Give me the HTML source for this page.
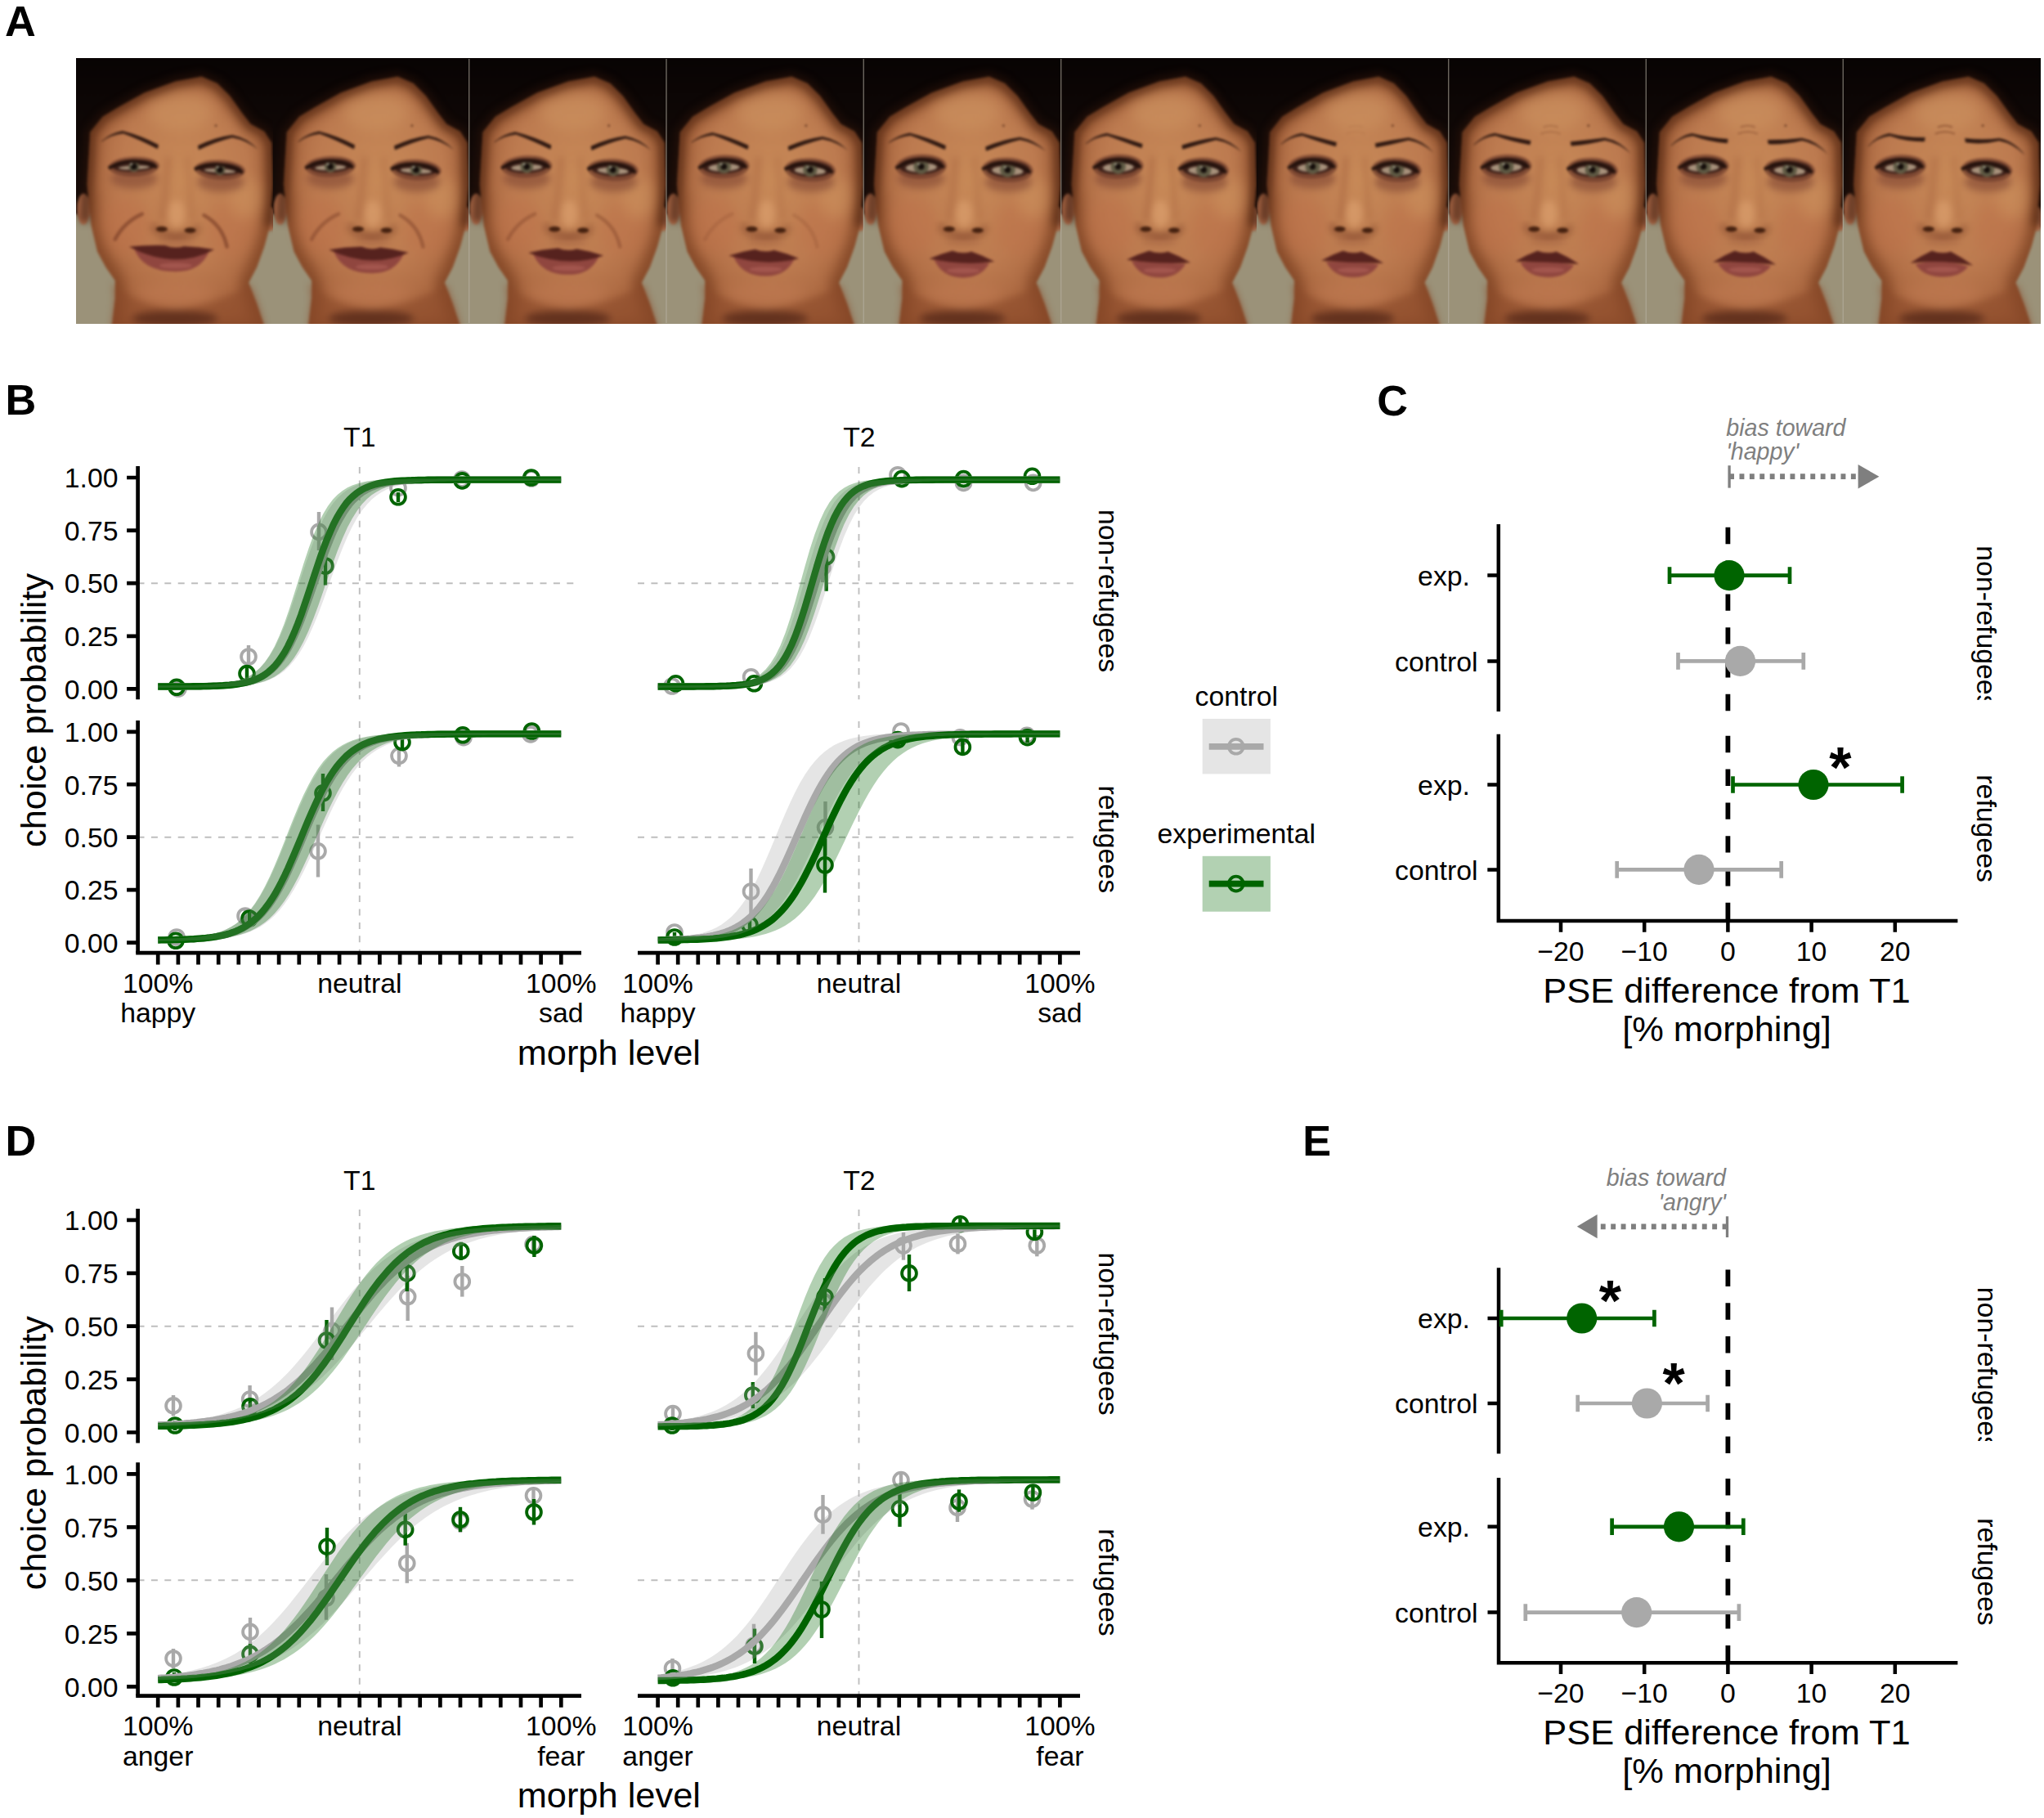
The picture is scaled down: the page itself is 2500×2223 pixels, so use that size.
<!DOCTYPE html>
<html lang="en"><head><meta charset="utf-8"><title>Figure</title>
<style>
html,body{margin:0;padding:0;background:#fff}
svg{display:block}
text{font-family:"Liberation Sans", Arial, Helvetica, sans-serif;fill:#000}
.t{font-size:33.8px}.tt{font-size:43.4px}.pl{font-size:52.3px;font-weight:bold}
.am{text-anchor:middle}.ae{text-anchor:end}
.star{font-size:70px;font-weight:bold}
.it{font-size:28.6px;font-style:italic;fill:#7f7f7f}
.ref{stroke:#bebebe;stroke-width:1.9;stroke-dasharray:8 8.4;fill:none}
.ax{stroke:#000;stroke-width:4.7;fill:none}
.ax2{stroke:#000;stroke-width:4.5;fill:none}
.zero{stroke:#000;stroke-width:5.8;stroke-dasharray:20.4 20.4;fill:none}
.pg{stroke:#006400;stroke-width:3.8;fill:none}.pk{stroke:#a9a9a9;stroke-width:3.8;fill:none}
.pg[d],.pk[d]{stroke-width:4.4}
.rg{fill:#006400;fill-opacity:.3}.rk{fill:#a9a9a9;fill-opacity:.3}
.lg{stroke:#006400;stroke-width:8.4;fill:none}.lk{stroke:#a9a9a9;stroke-width:8.4;fill:none}
</style></head><body>
<svg width="2500" height="2223" viewBox="0 0 2500 2223">
<rect width="2500" height="2223" fill="#fff"/>
<text x="6" y="44" class="pl">A</text>
<defs>
<filter id="fb" x="-5%" y="-5%" width="110%" height="110%" color-interpolation-filters="sRGB"><feGaussianBlur stdDeviation="1.4"/></filter>
<filter id="fb3" x="-30%" y="-30%" width="160%" height="160%" color-interpolation-filters="sRGB"><feGaussianBlur stdDeviation="4"/></filter>
<filter id="fb6" x="-40%" y="-40%" width="180%" height="180%" color-interpolation-filters="sRGB"><feGaussianBlur stdDeviation="8"/></filter>
<clipPath id="fsk"><path d="M12.7,153.7L17.8,204L25.4,236L35.6,255L47,271.6L47,293L42,336H232L220,300L210,274L220,255L229,230L235,208L239.5,154L238,103L229,89L212.4,80L202.3,67L187,45.5L171.7,30.3L152.6,22L120.8,27.7L82.7,41.7L50.9,59.5L31.8,71L16.5,90Z"/></clipPath>
<clipPath id="fc"><rect x="0" y="0" width="240" height="324"/></clipPath>
<radialGradient id="skin" cx="0.52" cy="0.40" r="0.62"><stop offset="0" stop-color="#c88a58"/><stop offset="0.55" stop-color="#bd7b50"/><stop offset="1" stop-color="#a35f3a"/></radialGradient>
<linearGradient id="hairg" x1="0" y1="0" x2="0" y2="1"><stop offset="0" stop-color="#070303"/><stop offset="1" stop-color="#1a0e0a"/></linearGradient>
<g id="fbase">
<rect x="-12" y="-12" width="264" height="348" fill="#9b9279"/>
<path d="M-12,-12H252V206H240Q237,216 232,204L224,110H18L13,192Q6,206 0,190H-12Z" fill="url(#hairg)"/>
<ellipse cx="8.5" cy="184" rx="8" ry="19" fill="#b16c49"/>
<ellipse cx="236.5" cy="196" rx="6" ry="15" fill="#b16c49"/>
<path d="M12.7,153.7L17.8,204L25.4,236L35.6,255L47,271.6L47,293L42,336H232L220,300L210,274L220,255L229,230L235,208L239.5,154L238,103L229,89L212.4,80L202.3,67L187,45.5L171.7,30.3L152.6,22L120.8,27.7L82.7,41.7L50.9,59.5L31.8,71L16.5,90Z" fill="url(#skin)"/>
<g filter="url(#fb3)"><path d="M10,200L12.7,153.7L16.5,90L31.8,71L50.9,59.5L82.7,41.7L120.8,27.7L152.6,22L171.7,30.3L187,45.5L202.3,67L212.4,80L229,89L238,103L239.5,154L236,205" stroke="#2a120a" stroke-width="13" fill="none" opacity=".55" stroke-linejoin="round"/></g>
<g clip-path="url(#fsk)"><g filter="url(#fb6)"><path d="M12.7,153.7L17.8,204L25.4,236L35.6,255L47,271.6L47,293L42,336H232L220,300L210,274L220,255L229,230L235,208L239.5,154L238,103L229,89L212.4,80L202.3,67L187,45.5L171.7,30.3L152.6,22L120.8,27.7L82.7,41.7L50.9,59.5L31.8,71L16.5,90Z" stroke="#6a3418" stroke-width="22" fill="none" opacity=".6" stroke-linejoin="round"/></g></g>
<g filter="url(#fb6)">
<ellipse cx="126" cy="66" rx="40" ry="22" fill="#d39a66" opacity=".4"/>
<ellipse cx="60" cy="205" rx="30" ry="34" fill="#bd7149" opacity=".5"/>
<ellipse cx="188" cy="207" rx="30" ry="34" fill="#bd7149" opacity=".45"/>
<ellipse cx="205" cy="170" rx="20" ry="26" fill="#cf9560" opacity=".5"/>
<ellipse cx="121" cy="288" rx="48" ry="14" fill="#c07a52" opacity=".6"/>
</g>
<g filter="url(#fb3)">
<path d="M44,274Q70,300 121,308Q172,300 212,276L222,302L232,336H42L47,293Z" fill="#8a4a2a" opacity=".62"/>
<ellipse cx="120" cy="318" rx="52" ry="10" fill="#582a1a" opacity=".8"/>
<ellipse cx="70" cy="147" rx="29" ry="12" fill="#864c35" opacity=".65"/>
<ellipse cx="176" cy="151" rx="29" ry="12" fill="#864c35" opacity=".65"/>
<path d="M112,120Q108,170 104,198" stroke="#a7643f" stroke-width="7" fill="none" opacity=".55"/>
<path d="M135,120Q139,170 141,198" stroke="#a7643f" stroke-width="6" fill="none" opacity=".4"/>
<ellipse cx="122" cy="190" rx="10" ry="17" fill="#dba06e" opacity=".7"/>
<ellipse cx="121" cy="222" rx="22" ry="6" fill="#9a5a3c" opacity=".5"/>
</g>
<g filter="url(#fb3)"><path d="M94,203Q96,214 108,213Q121,221 134,214Q146,215 148,205" stroke="#7d4329" stroke-width="6" fill="none" opacity=".75"/></g>
<ellipse cx="104" cy="208.5" rx="7" ry="3.3" fill="#44200f"/>
<ellipse cx="138.6" cy="210" rx="7" ry="3.3" fill="#44200f"/>
<circle cx="170" cy="82" r="1.3" fill="#5a2f1c"/>
</g>
</defs>
<g transform="translate(93.6,71.6) scale(1.0025,1)" clip-path="url(#fc)"><g filter="url(#fb)"><use href="#fbase"/><g transform="rotate(-2 70 131)"><ellipse cx="70" cy="132" rx="31" ry="12" fill="#6d3c2b" opacity=".7"/><ellipse cx="70" cy="131" rx="27" ry="7.5" fill="#3b1f18"/><ellipse cx="70" cy="133.2" rx="19" ry="2.5" fill="#a8927c"/><circle cx="70" cy="132" r="6.4" fill="#5f5a44"/><circle cx="70" cy="132" r="3.8" fill="#120b08"/><path d="M39,133Q68,117.5 98,134" stroke="#23110c" stroke-width="4" fill="none"/><circle cx="67" cy="129" r="1.2" fill="#d8d2c4"/></g><g transform="rotate(3 175 135)"><ellipse cx="175" cy="136" rx="31" ry="12" fill="#6d3c2b" opacity=".7"/><ellipse cx="175" cy="135" rx="27" ry="7.5" fill="#3b1f18"/><ellipse cx="175" cy="137.2" rx="19" ry="2.5" fill="#a8927c"/><circle cx="175" cy="136" r="6.4" fill="#5f5a44"/><circle cx="175" cy="136" r="3.8" fill="#120b08"/><path d="M144,137Q173,121.5 203,138" stroke="#23110c" stroke-width="4" fill="none"/><circle cx="172" cy="133" r="1.2" fill="#d8d2c4"/></g><path d="M30.5,101Q42,91 56,88.5Q78,94 100,105.5L99,110.5Q76,98.5 57,91.5Q42,93 30.5,101.8Z" fill="#2b1610"/><path d="M148,106.5Q170,96 190,93.5Q208,97 221.3,111Q207,99.5 190,96.5Q170,101.5 149,111.5Z" fill="#2b1610"/><path d="M80,190Q58,200 47,221M155.5,191.6Q178,204 183.5,230" stroke="#7e4229" stroke-width="4.5" fill="none" opacity="0.7" stroke-linecap="round"/><path d="M70,231.5Q120,256.2 162,235Q152,260.5 121,260.5Q80,260.5 70,231.5Z" fill="#90463f"/><ellipse cx="121" cy="253.2" rx="20" ry="3.5" fill="#b0635a" opacity=".55"/><path d="M64,230Q86,227.8 108,228.5Q120,233 131,229.5Q149.5,230 168,233.5Q120,259.2 64,230Z" fill="#56221e"/></g></g>
<g transform="translate(334.2,71.6) scale(0.9983,1)" clip-path="url(#fc)"><g filter="url(#fb)"><use href="#fbase"/><g transform="rotate(-2 70 131)"><ellipse cx="70" cy="132" rx="31" ry="12.7" fill="#6d3c2b" opacity=".7"/><ellipse cx="70" cy="131" rx="27" ry="8.2" fill="#3b1f18"/><ellipse cx="70" cy="133.2" rx="19" ry="3.2" fill="#a8927c"/><circle cx="70" cy="132" r="7.1" fill="#5f5a44"/><circle cx="70" cy="132" r="3.8" fill="#120b08"/><path d="M39,133Q68,116.8 98,134" stroke="#23110c" stroke-width="4" fill="none"/><circle cx="67" cy="129" r="1.2" fill="#d8d2c4"/></g><g transform="rotate(3 175 135)"><ellipse cx="175" cy="136" rx="31" ry="12.7" fill="#6d3c2b" opacity=".7"/><ellipse cx="175" cy="135" rx="27" ry="8.2" fill="#3b1f18"/><ellipse cx="175" cy="137.2" rx="19" ry="3.2" fill="#a8927c"/><circle cx="175" cy="136" r="7.1" fill="#5f5a44"/><circle cx="175" cy="136" r="3.8" fill="#120b08"/><path d="M144,137Q173,120.8 203,138" stroke="#23110c" stroke-width="4" fill="none"/><circle cx="172" cy="133" r="1.2" fill="#d8d2c4"/></g><path d="M30.5,101.4Q42,91.6 56,89.1Q78,94.6 100,105.7L99,110.7Q76,99.1 57,92.1Q42,93.6 30.5,102.2Z" fill="#2b1610"/><path d="M148,106.8Q170,96.7 190,94.2Q208,97.7 221.3,111.5Q207,100.2 190,97.2Q170,102.2 149,111.8Z" fill="#2b1610"/><path d="M80,190Q58,200 47,221M155.5,191.6Q178,204 183.5,230" stroke="#7e4229" stroke-width="4.5" fill="none" opacity="0.5" stroke-linecap="round"/><path d="M74,235.2Q120,254.8 159.8,238.7Q149.8,262.4 121,262.4Q84,262.4 74,235.2Z" fill="#90463f"/><ellipse cx="121" cy="254.7" rx="20" ry="3.5" fill="#b0635a" opacity=".55"/><path d="M68,233.7Q88,230.4 108,230.1Q120,234.6 131,231.1Q148.4,232.7 165.8,237.2Q120,257.8 68,233.7Z" fill="#56221e"/></g></g>
<g transform="translate(573.8,71.6) scale(1.0050,1)" clip-path="url(#fc)"><g filter="url(#fb)"><use href="#fbase"/><g transform="rotate(-2 70 131)"><ellipse cx="70" cy="132" rx="31" ry="13.5" fill="#6d3c2b" opacity=".7"/><ellipse cx="70" cy="131" rx="27" ry="9" fill="#3b1f18"/><ellipse cx="70" cy="133.2" rx="19" ry="4" fill="#a8927c"/><circle cx="70" cy="132" r="7.9" fill="#5f5a44"/><circle cx="70" cy="132" r="3.8" fill="#120b08"/><path d="M39,133Q68,116 98,134" stroke="#23110c" stroke-width="4" fill="none"/><circle cx="67" cy="129" r="1.2" fill="#d8d2c4"/></g><g transform="rotate(3 175 135)"><ellipse cx="175" cy="136" rx="31" ry="13.5" fill="#6d3c2b" opacity=".7"/><ellipse cx="175" cy="135" rx="27" ry="9" fill="#3b1f18"/><ellipse cx="175" cy="137.2" rx="19" ry="4" fill="#a8927c"/><circle cx="175" cy="136" r="7.9" fill="#5f5a44"/><circle cx="175" cy="136" r="3.8" fill="#120b08"/><path d="M144,137Q173,120 203,138" stroke="#23110c" stroke-width="4" fill="none"/><circle cx="172" cy="133" r="1.2" fill="#d8d2c4"/></g><path d="M30.5,101.9Q42,92.3 56,89.8Q78,95.3 100,106L99,111Q76,99.8 57,92.8Q42,94.3 30.5,102.7Z" fill="#2b1610"/><path d="M148,107.2Q170,97.3 190,94.8Q208,98.3 221.3,112Q207,100.8 190,97.8Q170,102.8 149,112.2Z" fill="#2b1610"/><path d="M80,190Q58,200 47,221M155.5,191.6Q178,204 183.5,230" stroke="#7e4229" stroke-width="4.5" fill="none" opacity="0.4" stroke-linecap="round"/><path d="M77.9,238.9Q120,253.3 157.6,242.4Q147.6,264.2 121,264.2Q87.9,264.2 77.9,238.9Z" fill="#90463f"/><ellipse cx="121" cy="256.2" rx="20" ry="3.5" fill="#b0635a" opacity=".55"/><path d="M71.9,237.4Q90,233.1 108,231.7Q120,236.2 131,232.7Q147.3,235.3 163.6,240.9Q120,256.3 71.9,237.4Z" fill="#56221e"/></g></g>
<g transform="translate(815,71.6) scale(1.0050,1)" clip-path="url(#fc)"><g filter="url(#fb)"><use href="#fbase"/><g transform="rotate(-2 70 131)"><ellipse cx="70" cy="132" rx="31" ry="14.2" fill="#6d3c2b" opacity=".7"/><ellipse cx="70" cy="131" rx="27" ry="9.7" fill="#3b1f18"/><ellipse cx="70" cy="133.2" rx="19" ry="4.7" fill="#a8927c"/><circle cx="70" cy="132" r="8.6" fill="#5f5a44"/><circle cx="70" cy="132" r="3.8" fill="#120b08"/><path d="M39,133Q68,115.3 98,134" stroke="#23110c" stroke-width="4" fill="none"/><circle cx="67" cy="129" r="1.2" fill="#d8d2c4"/></g><g transform="rotate(3 175 135)"><ellipse cx="175" cy="136" rx="31" ry="14.2" fill="#6d3c2b" opacity=".7"/><ellipse cx="175" cy="135" rx="27" ry="9.7" fill="#3b1f18"/><ellipse cx="175" cy="137.2" rx="19" ry="4.7" fill="#a8927c"/><circle cx="175" cy="136" r="8.6" fill="#5f5a44"/><circle cx="175" cy="136" r="3.8" fill="#120b08"/><path d="M144,137Q173,119.3 203,138" stroke="#23110c" stroke-width="4" fill="none"/><circle cx="172" cy="133" r="1.2" fill="#d8d2c4"/></g><path d="M30.5,102.3Q42,92.9 56,90.4Q78,95.9 100,106.2L99,111.2Q76,100.4 57,93.4Q42,94.9 30.5,103.1Z" fill="#2b1610"/><path d="M148,107.5Q170,98 190,95.5Q208,99 221.3,112.5Q207,101.5 190,98.5Q170,103.5 149,112.5Z" fill="#2b1610"/><path d="M80,190Q58,200 47,221M155.5,191.6Q178,204 183.5,230" stroke="#7e4229" stroke-width="4.5" fill="none" opacity="0.2" stroke-linecap="round"/><path d="M81.9,242.6Q120,251.8 155.3,246.1Q145.3,266.1 121,266.1Q91.9,266.1 81.9,242.6Z" fill="#90463f"/><ellipse cx="121" cy="257.7" rx="20" ry="3.5" fill="#b0635a" opacity=".55"/><path d="M75.9,241.1Q91.9,235.7 108,233.3Q120,237.8 131,234.3Q146.2,238 161.3,244.6Q120,254.8 75.9,241.1Z" fill="#56221e"/></g></g>
<g transform="translate(1056.2,71.6) scale(1.0067,1)" clip-path="url(#fc)"><g filter="url(#fb)"><use href="#fbase"/><g transform="rotate(-2 70 131)"><ellipse cx="70" cy="132" rx="31" ry="15" fill="#6d3c2b" opacity=".7"/><ellipse cx="70" cy="131" rx="27" ry="10.5" fill="#3b1f18"/><ellipse cx="70" cy="133.2" rx="19" ry="5.5" fill="#a8927c"/><circle cx="70" cy="132" r="9.2" fill="#5f5a44"/><circle cx="70" cy="132" r="3.8" fill="#120b08"/><path d="M39,133Q68,114.5 98,134" stroke="#23110c" stroke-width="4" fill="none"/><circle cx="67" cy="129" r="1.2" fill="#d8d2c4"/></g><g transform="rotate(3 175 135)"><ellipse cx="175" cy="136" rx="31" ry="15" fill="#6d3c2b" opacity=".7"/><ellipse cx="175" cy="135" rx="27" ry="10.5" fill="#3b1f18"/><ellipse cx="175" cy="137.2" rx="19" ry="5.5" fill="#a8927c"/><circle cx="175" cy="136" r="9.2" fill="#5f5a44"/><circle cx="175" cy="136" r="3.8" fill="#120b08"/><path d="M144,137Q173,118.5 203,138" stroke="#23110c" stroke-width="4" fill="none"/><circle cx="172" cy="133" r="1.2" fill="#d8d2c4"/></g><path d="M30.5,102.8Q42,93.6 56,91.1Q78,96.6 100,106.5L99,111.5Q76,101.1 57,94.1Q42,95.6 30.5,103.6Z" fill="#2b1610"/><path d="M148,107.9Q170,98.7 190,96.2Q208,99.7 221.3,113Q207,102.2 190,99.2Q170,104.2 149,112.9Z" fill="#2b1610"/><path d="M80,190Q58,200 47,221M155.5,191.6Q178,204 183.5,230" stroke="#7e4229" stroke-width="4.5" fill="none" opacity="0" stroke-linecap="round"/><path d="M85.8,246.3Q120,250.3 153.1,249.8Q143.1,267.9 121,267.9Q95.8,267.9 85.8,246.3Z" fill="#90463f"/><ellipse cx="121" cy="259.2" rx="20" ry="3.5" fill="#b0635a" opacity=".55"/><path d="M79.8,244.8Q93.9,238.4 108,234.9Q120,239.4 131,235.9Q145.1,240.6 159.1,248.3Q120,253.3 79.8,244.8Z" fill="#56221e"/></g></g>
<g transform="translate(1297.8,71.6) scale(0.9967,1)" clip-path="url(#fc)"><g filter="url(#fb)"><use href="#fbase"/><g transform="rotate(-2 70 131)"><ellipse cx="70" cy="132" rx="31" ry="14.9" fill="#6d3c2b" opacity=".7"/><ellipse cx="70" cy="131" rx="27" ry="10.4" fill="#3b1f18"/><ellipse cx="70" cy="133.2" rx="19" ry="5.4" fill="#a8927c"/><circle cx="70" cy="132" r="9.2" fill="#5f5a44"/><circle cx="70" cy="132" r="3.8" fill="#120b08"/><path d="M39,133Q68,114.6 98,134" stroke="#23110c" stroke-width="4" fill="none"/><circle cx="67" cy="129" r="1.2" fill="#d8d2c4"/></g><g transform="rotate(3 175 135)"><ellipse cx="175" cy="136" rx="31" ry="14.9" fill="#6d3c2b" opacity=".7"/><ellipse cx="175" cy="135" rx="27" ry="10.4" fill="#3b1f18"/><ellipse cx="175" cy="137.2" rx="19" ry="5.4" fill="#a8927c"/><circle cx="175" cy="136" r="9.2" fill="#5f5a44"/><circle cx="175" cy="136" r="3.8" fill="#120b08"/><path d="M144,137Q173,118.6 203,138" stroke="#23110c" stroke-width="4" fill="none"/><circle cx="172" cy="133" r="1.2" fill="#d8d2c4"/></g><path d="M30.5,103.6Q42,93.7 56,91.2Q78,96.7 100,104.6L99,109.6Q76,101.2 57,94.2Q42,95.7 30.5,104.4Z" fill="#2b1610"/><path d="M148,105.9Q170,98.9 190,96.4Q208,99.9 221.3,114Q207,102.4 190,99.4Q170,104.4 149,110.9Z" fill="#2b1610"/><path d="M86.4,247.5Q120,248.8 152.8,250.9Q142.8,267.8 121,267.8Q96.4,267.8 86.4,247.5Z" fill="#90463f"/><ellipse cx="121" cy="259" rx="20" ry="3.5" fill="#b0635a" opacity=".55"/><path d="M80.4,246Q94.2,239 108,235Q120,239.5 131,236Q144.9,241.2 158.8,249.4Q120,251.8 80.4,246Z" fill="#56221e"/></g></g>
<g transform="translate(1537,71.6) scale(0.9783,1)" clip-path="url(#fc)"><g filter="url(#fb)"><use href="#fbase"/><g transform="rotate(-2 70 131)"><ellipse cx="70" cy="132" rx="31" ry="14.8" fill="#6d3c2b" opacity=".7"/><ellipse cx="70" cy="131" rx="27" ry="10.3" fill="#3b1f18"/><ellipse cx="70" cy="133.2" rx="19" ry="5.3" fill="#a8927c"/><circle cx="70" cy="132" r="9.2" fill="#5f5a44"/><circle cx="70" cy="132" r="3.8" fill="#120b08"/><path d="M39,133Q68,114.7 98,134" stroke="#23110c" stroke-width="4" fill="none"/><circle cx="67" cy="129" r="1.2" fill="#d8d2c4"/></g><g transform="rotate(3 175 135)"><ellipse cx="175" cy="136" rx="31" ry="14.8" fill="#6d3c2b" opacity=".7"/><ellipse cx="175" cy="135" rx="27" ry="10.3" fill="#3b1f18"/><ellipse cx="175" cy="137.2" rx="19" ry="5.3" fill="#a8927c"/><circle cx="175" cy="136" r="9.2" fill="#5f5a44"/><circle cx="175" cy="136" r="3.8" fill="#120b08"/><path d="M144,137Q173,118.7 203,138" stroke="#23110c" stroke-width="4" fill="none"/><circle cx="172" cy="133" r="1.2" fill="#d8d2c4"/></g><path d="M30.5,104.5Q42,93.8 56,91.3Q78,96.8 100,102.6L99,107.6Q76,101.3 57,94.3Q42,95.8 30.5,105.3Z" fill="#2b1610"/><path d="M148,103.8Q170,99.2 190,96.7Q208,100.2 221.3,115Q207,102.7 190,99.7Q170,104.7 149,108.8Z" fill="#2b1610"/><path d="M112,92q12,-5 24,0M115,84q9,-4 18,0" stroke="#8c5233" stroke-width="2.2" fill="none" opacity="0.1"/><path d="M86.8,248.5Q120,247.2 152.6,251.8Q142.6,267.6 121,267.6Q96.8,267.6 86.8,248.5Z" fill="#90463f"/><ellipse cx="121" cy="258.8" rx="20" ry="3.5" fill="#b0635a" opacity=".55"/><path d="M80.8,247Q94.4,239.5 108,235Q120,239.5 131,236Q144.8,241.6 158.6,250.3Q120,250.2 80.8,247Z" fill="#56221e"/></g></g>
<g transform="translate(1771.8,71.6) scale(1.0058,1)" clip-path="url(#fc)"><g filter="url(#fb)"><use href="#fbase"/><g transform="rotate(-2 70 131)"><ellipse cx="70" cy="132" rx="31" ry="14.7" fill="#6d3c2b" opacity=".7"/><ellipse cx="70" cy="131" rx="27" ry="10.2" fill="#3b1f18"/><ellipse cx="70" cy="133.2" rx="19" ry="5.2" fill="#a8927c"/><circle cx="70" cy="132" r="9.1" fill="#5f5a44"/><circle cx="70" cy="132" r="3.8" fill="#120b08"/><path d="M39,133Q68,114.8 98,134" stroke="#23110c" stroke-width="4" fill="none"/><circle cx="67" cy="129" r="1.2" fill="#d8d2c4"/></g><g transform="rotate(3 175 135)"><ellipse cx="175" cy="136" rx="31" ry="14.7" fill="#6d3c2b" opacity=".7"/><ellipse cx="175" cy="135" rx="27" ry="10.2" fill="#3b1f18"/><ellipse cx="175" cy="137.2" rx="19" ry="5.2" fill="#a8927c"/><circle cx="175" cy="136" r="9.1" fill="#5f5a44"/><circle cx="175" cy="136" r="3.8" fill="#120b08"/><path d="M144,137Q173,118.8 203,138" stroke="#23110c" stroke-width="4" fill="none"/><circle cx="172" cy="133" r="1.2" fill="#d8d2c4"/></g><path d="M30.5,105.3Q42,93.8 56,91.3Q78,96.8 100,100.5L99,105.5Q76,101.3 57,94.3Q42,95.8 30.5,106.1Z" fill="#2b1610"/><path d="M148,101.7Q170,99.5 190,97Q208,100.5 221.3,116Q207,103 190,100Q170,105 149,106.7Z" fill="#2b1610"/><path d="M112,92q12,-5 24,0M115,84q9,-4 18,0" stroke="#8c5233" stroke-width="2.2" fill="none" opacity="0.4"/><path d="M87.2,249.5Q120,245.6 152.4,252.7Q142.4,267.4 121,267.4Q97.2,267.4 87.2,249.5Z" fill="#90463f"/><ellipse cx="121" cy="258.5" rx="20" ry="3.5" fill="#b0635a" opacity=".55"/><path d="M81.2,248Q94.6,240 108,235Q120,239.5 131,236Q144.7,242.1 158.4,251.2Q120,248.6 81.2,248Z" fill="#56221e"/></g></g>
<g transform="translate(2013.2,71.6) scale(1.0042,1)" clip-path="url(#fc)"><g filter="url(#fb)"><use href="#fbase"/><g transform="rotate(-2 70 131)"><ellipse cx="70" cy="132" rx="31" ry="14.6" fill="#6d3c2b" opacity=".7"/><ellipse cx="70" cy="131" rx="27" ry="10.1" fill="#3b1f18"/><ellipse cx="70" cy="133.2" rx="19" ry="5.1" fill="#a8927c"/><circle cx="70" cy="132" r="9" fill="#5f5a44"/><circle cx="70" cy="132" r="3.8" fill="#120b08"/><path d="M39,133Q68,114.9 98,134" stroke="#23110c" stroke-width="4" fill="none"/><circle cx="67" cy="129" r="1.2" fill="#d8d2c4"/></g><g transform="rotate(3 175 135)"><ellipse cx="175" cy="136" rx="31" ry="14.6" fill="#6d3c2b" opacity=".7"/><ellipse cx="175" cy="135" rx="27" ry="10.1" fill="#3b1f18"/><ellipse cx="175" cy="137.2" rx="19" ry="5.1" fill="#a8927c"/><circle cx="175" cy="136" r="9" fill="#5f5a44"/><circle cx="175" cy="136" r="3.8" fill="#120b08"/><path d="M144,137Q173,118.9 203,138" stroke="#23110c" stroke-width="4" fill="none"/><circle cx="172" cy="133" r="1.2" fill="#d8d2c4"/></g><path d="M30.5,106.2Q42,93.9 56,91.4Q78,96.9 100,98.5L99,103.5Q76,101.4 57,94.4Q42,95.9 30.5,107Z" fill="#2b1610"/><path d="M148,99.6Q170,99.7 190,97.2Q208,100.7 221.3,117Q207,103.2 190,100.2Q170,105.2 149,104.6Z" fill="#2b1610"/><path d="M112,92q12,-5 24,0M115,84q9,-4 18,0" stroke="#8c5233" stroke-width="2.2" fill="none" opacity="0.6"/><path d="M87.6,250.5Q120,244.1 152.2,253.6Q142.2,267.2 121,267.2Q97.6,267.2 87.6,250.5Z" fill="#90463f"/><ellipse cx="121" cy="258.3" rx="20" ry="3.5" fill="#b0635a" opacity=".55"/><path d="M81.6,249Q94.8,240.5 108,235Q120,239.5 131,236Q144.6,242.5 158.2,252.1Q120,247.1 81.6,249Z" fill="#56221e"/></g></g>
<g transform="translate(2254.2,71.6) scale(1.0058,1)" clip-path="url(#fc)"><g filter="url(#fb)"><use href="#fbase"/><g transform="rotate(-2 70 131)"><ellipse cx="70" cy="132" rx="31" ry="14.5" fill="#6d3c2b" opacity=".7"/><ellipse cx="70" cy="131" rx="27" ry="10" fill="#3b1f18"/><ellipse cx="70" cy="133.2" rx="19" ry="5" fill="#a8927c"/><circle cx="70" cy="132" r="8.9" fill="#5f5a44"/><circle cx="70" cy="132" r="3.8" fill="#120b08"/><path d="M39,133Q68,115 98,134" stroke="#23110c" stroke-width="4" fill="none"/><circle cx="67" cy="129" r="1.2" fill="#d8d2c4"/></g><g transform="rotate(3 175 135)"><ellipse cx="175" cy="136" rx="31" ry="14.5" fill="#6d3c2b" opacity=".7"/><ellipse cx="175" cy="135" rx="27" ry="10" fill="#3b1f18"/><ellipse cx="175" cy="137.2" rx="19" ry="5" fill="#a8927c"/><circle cx="175" cy="136" r="8.9" fill="#5f5a44"/><circle cx="175" cy="136" r="3.8" fill="#120b08"/><path d="M144,137Q173,119 203,138" stroke="#23110c" stroke-width="4" fill="none"/><circle cx="172" cy="133" r="1.2" fill="#d8d2c4"/></g><path d="M30.5,107Q42,94 56,91.5Q78,97 100,96.5L99,101.5Q76,101.5 57,94.5Q42,96 30.5,107.8Z" fill="#2b1610"/><path d="M148,97.5Q170,100 190,97.5Q208,101 221.3,118Q207,103.5 190,100.5Q170,105.5 149,102.5Z" fill="#2b1610"/><path d="M112,92q12,-5 24,0M115,84q9,-4 18,0" stroke="#8c5233" stroke-width="2.2" fill="none" opacity="0.8"/><path d="M88,251.5Q120,242.5 152,254.5Q142,267 121,267Q98,267 88,251.5Z" fill="#90463f"/><ellipse cx="121" cy="258" rx="20" ry="3.5" fill="#b0635a" opacity=".55"/><path d="M82,250Q95,241 108,235Q120,239.5 131,236Q144.5,243 158,253Q120,245.5 82,250Z" fill="#56221e"/></g></g>
<path d="M573.8,72V395" stroke="#b9b3a6" stroke-width="1" opacity=".8"/>
<path d="M815,72V395" stroke="#b9b3a6" stroke-width="1" opacity=".8"/>
<path d="M1056.2,72V395" stroke="#b9b3a6" stroke-width="1" opacity=".8"/>
<path d="M1297.8,72V395" stroke="#b9b3a6" stroke-width="1" opacity=".8"/>
<path d="M1771.8,72V395" stroke="#b9b3a6" stroke-width="1" opacity=".8"/>
<path d="M2013.2,72V395" stroke="#b9b3a6" stroke-width="1" opacity=".8"/>
<path d="M2254.2,72V395" stroke="#b9b3a6" stroke-width="1" opacity=".8"/>
<path d="M168.5,713.2H705 M439.8,571.1V855.3" class="ref"/>
<circle cx="218" cy="842" r="8.9" class="pk"/>
<path d="M304,789V815" class="pk"/>
<circle cx="304" cy="803" r="8.9" class="pk"/>
<path d="M390,626V673" class="pk"/>
<circle cx="390" cy="650.4" r="8.9" class="pk"/>
<circle cx="487" cy="596.7" r="8.9" class="pk"/>
<circle cx="565" cy="586" r="8.9" class="pk"/>
<circle cx="650" cy="585" r="8.9" class="pk"/>
<circle cx="216" cy="840.3" r="8.9" class="pg"/>
<path d="M302,815V832" class="pg"/>
<circle cx="302" cy="823.6" r="8.9" class="pg"/>
<path d="M398,673V715.5" class="pg"/>
<circle cx="398" cy="692" r="8.9" class="pg"/>
<path d="M487,602V614" class="pg"/>
<circle cx="487" cy="607.8" r="8.9" class="pg"/>
<circle cx="565.3" cy="587.9" r="8.9" class="pg"/>
<circle cx="649.8" cy="584" r="8.9" class="pg"/>
<path d="M193.2,839.5 197.2,839.5 201.2,839.5 205.1,839.5 209.1,839.5 213.1,839.5 217.1,839.5 221,839.4 225,839.4 229,839.4 233,839.3 236.9,839.3 240.9,839.2 244.9,839.2 248.9,839.1 252.8,839 256.8,838.9 260.8,838.8 264.8,838.6 268.8,838.4 272.7,838.2 276.7,837.9 280.7,837.6 284.7,837.1 288.6,836.7 292.6,836.1 296.6,835.4 300.6,834.6 304.5,833.6 308.5,832.4 312.5,831 316.5,829.3 320.5,827.3 324.4,825 328.4,822.2 332.4,819 336.4,815.2 340.3,810.8 344.3,805.8 348.3,800 352.3,793.4 356.2,786 360.2,777.8 364.2,768.7 368.2,758.9 372.1,748.4 376.1,737.4 380.1,726 384.1,714.3 388.1,702.6 392,691.1 396,680 400,669.4 404,659.4 407.9,650.2 411.9,641.8 415.9,634.3 419.9,627.5 423.8,621.6 427.8,616.3 431.8,611.8 435.8,607.9 439.8,604.6 443.7,601.7 447.7,599.3 451.7,597.2 455.7,595.5 459.6,594 463.6,592.8 467.6,591.8 471.6,590.9 475.5,590.2 479.5,589.6 483.5,589.1 487.5,588.7 491.4,588.3 495.4,588 499.4,587.8 503.4,587.6 507.4,587.4 511.3,587.3 515.3,587.2 519.3,587.1 523.3,587 527.2,586.9 531.2,586.9 535.2,586.8 539.2,586.8 543.1,586.7 547.1,586.7 551.1,586.7 555.1,586.7 559,586.7 563,586.6 567,586.6 571,586.6 575,586.6 578.9,586.6 582.9,586.6 586.9,586.6 590.9,586.6 594.8,586.6 598.8,586.6 602.8,586.6 606.8,586.6 610.7,586.6 614.7,586.6 618.7,586.6 622.7,586.6 626.7,586.6 630.6,586.6 634.6,586.6 638.6,586.6 642.6,586.6 646.5,586.6 650.5,586.6 654.5,586.6 658.5,586.6 662.4,586.6 666.4,586.6 670.4,586.6 674.4,586.6 678.3,586.6 682.3,586.6 686.3,586.6" class="lk"/>
<path d="M193.2,839.5 197.2,839.5 201.2,839.5 205.1,839.5 209.1,839.5 213.1,839.5 217.1,839.5 221,839.5 225,839.4 229,839.4 233,839.4 236.9,839.3 240.9,839.3 244.9,839.2 248.9,839.1 252.8,839.1 256.8,839 260.8,838.8 264.8,838.7 268.8,838.5 272.7,838.3 276.7,838 280.7,837.7 284.7,837.3 288.6,836.8 292.6,836.2 296.6,835.5 300.6,834.6 304.5,833.6 308.5,832.4 312.5,830.9 316.5,829.1 320.5,827 324.4,824.5 328.4,821.5 332.4,818 336.4,813.9 340.3,809.1 344.3,803.5 348.3,797.2 352.3,789.9 356.2,781.7 360.2,772.7 364.2,762.8 368.2,752.1 372.1,740.7 376.1,728.9 380.1,716.8 384.1,704.6 388.1,692.5 392,680.9 396,669.7 400,659.3 404,649.8 407.9,641.1 411.9,633.3 415.9,626.4 419.9,620.3 423.8,615 427.8,610.5 431.8,606.7 435.8,603.4 439.8,600.6 443.7,598.2 447.7,596.3 451.7,594.6 455.7,593.3 459.6,592.1 463.6,591.2 467.6,590.4 471.6,589.7 475.5,589.2 479.5,588.7 483.5,588.3 487.5,588 491.4,587.8 495.4,587.6 499.4,587.4 503.4,587.3 507.4,587.1 511.3,587 515.3,587 519.3,586.9 523.3,586.8 527.2,586.8 531.2,586.8 535.2,586.7 539.2,586.7 543.1,586.7 547.1,586.7 551.1,586.7 555.1,586.6 559,586.6 563,586.6 567,586.6 571,586.6 575,586.6 578.9,586.6 582.9,586.6 586.9,586.6 590.9,586.6 594.8,586.6 598.8,586.6 602.8,586.6 606.8,586.6 610.7,586.6 614.7,586.6 618.7,586.6 622.7,586.6 626.7,586.6 630.6,586.6 634.6,586.6 638.6,586.6 642.6,586.6 646.5,586.6 650.5,586.6 654.5,586.6 658.5,586.6 662.4,586.6 666.4,586.6 670.4,586.6 674.4,586.6 678.3,586.6 682.3,586.6 686.3,586.6" class="lg"/>
<path d="M193.2,838.2 199.1,838.2 205.1,838.2 211,838.1 217,838.1 222.9,838 228.8,838 234.8,837.9 240.7,837.7 246.7,837.5 252.6,837.3 258.6,837 264.5,836.6 270.4,836 276.4,835.2 282.3,834.2 288.3,832.9 294.2,831.1 300.1,828.8 306.1,825.8 312,821.8 318,816.8 323.9,810.3 329.8,802.2 335.8,792.3 341.7,780.3 347.7,766.3 353.6,750.4 359.5,733.1 365.5,714.9 371.4,696.6 377.4,678.9 383.3,662.5 389.3,647.8 395.2,635.1 401.1,624.5 407.1,615.8 413,608.8 419,603.3 424.9,599 430.8,595.7 436.8,593.1 442.7,591.2 448.7,589.7 454.6,588.6 460.5,587.8 466.5,587.2 472.4,586.7 478.4,586.3 484.3,586.1 490.2,585.9 496.2,585.7 502.1,585.6 508.1,585.5 514,585.5 520,585.4 525.9,585.4 531.8,585.4 537.8,585.3 543.7,585.3 549.7,585.3 555.6,585.3 561.5,585.3 567.5,585.3 573.4,585.3 579.4,585.3 585.3,585.3 591.2,585.3 597.2,585.3 603.1,585.3 609.1,585.3 615,585.3 620.9,585.3 626.9,585.3 632.8,585.3 638.8,585.3 644.7,585.3 650.7,585.3 656.6,585.3 662.5,585.3 668.5,585.3 674.4,585.3 680.4,585.3 686.3,585.3 686.3,587.9 680.4,587.9 674.4,587.9 668.5,587.9 662.5,587.9 656.6,587.9 650.7,587.9 644.7,587.9 638.8,587.9 632.8,587.9 626.9,587.9 620.9,587.9 615,587.9 609.1,587.9 603.1,587.9 597.2,587.9 591.2,587.9 585.3,588 579.4,588 573.4,588 567.5,588.1 561.5,588.1 555.6,588.2 549.7,588.3 543.7,588.4 537.8,588.5 531.8,588.7 525.9,588.9 520,589.3 514,589.7 508.1,590.2 502.1,590.9 496.2,591.8 490.2,593 484.3,594.5 478.4,596.4 472.4,598.8 466.5,601.9 460.5,605.9 454.6,610.8 448.7,616.9 442.7,624.3 436.8,633.3 430.8,644 424.9,656.3 419,670.2 413,685.4 407.1,701.6 401.1,718.2 395.2,734.7 389.3,750.5 383.3,765.1 377.4,778.3 371.4,789.9 365.5,799.7 359.5,808 353.6,814.8 347.7,820.4 341.7,824.8 335.8,828.3 329.8,831.1 323.9,833.3 318,835 312,836.3 306.1,837.4 300.1,838.2 294.2,838.8 288.3,839.3 282.3,839.6 276.4,839.9 270.4,840.1 264.5,840.3 258.6,840.4 252.6,840.5 246.7,840.6 240.7,840.7 234.8,840.7 228.8,840.7 222.9,840.8 217,840.8 211,840.8 205.1,840.8 199.1,840.8 193.2,840.8Z" class="rk"/>
<path d="M193.2,838.2 199.1,838.2 205.1,838.2 211,838.2 217,838.1 222.9,838.1 228.8,838 234.8,837.9 240.7,837.8 246.7,837.6 252.6,837.4 258.6,837.1 264.5,836.7 270.4,836.2 276.4,835.5 282.3,834.5 288.3,833.2 294.2,831.4 300.1,829.1 306.1,826 312,821.9 318,816.6 323.9,809.8 329.8,801.1 335.8,790.5 341.7,777.6 347.7,762.5 353.6,745.5 359.5,727.1 365.5,707.9 371.4,689 377.4,671 383.3,654.7 389.3,640.5 395.2,628.5 401.1,618.7 407.1,610.8 413,604.7 419,599.9 424.9,596.2 430.8,593.5 436.8,591.4 442.7,589.8 448.7,588.6 454.6,587.8 460.5,587.1 466.5,586.6 472.4,586.3 478.4,586 484.3,585.8 490.2,585.7 496.2,585.6 502.1,585.5 508.1,585.4 514,585.4 520,585.4 525.9,585.3 531.8,585.3 537.8,585.3 543.7,585.3 549.7,585.3 555.6,585.3 561.5,585.3 567.5,585.3 573.4,585.3 579.4,585.3 585.3,585.3 591.2,585.3 597.2,585.3 603.1,585.3 609.1,585.3 615,585.3 620.9,585.3 626.9,585.3 632.8,585.3 638.8,585.3 644.7,585.3 650.7,585.3 656.6,585.3 662.5,585.3 668.5,585.3 674.4,585.3 680.4,585.3 686.3,585.3 686.3,587.9 680.4,587.9 674.4,587.9 668.5,587.9 662.5,587.9 656.6,587.9 650.7,587.9 644.7,587.9 638.8,587.9 632.8,587.9 626.9,587.9 620.9,587.9 615,587.9 609.1,587.9 603.1,587.9 597.2,587.9 591.2,587.9 585.3,587.9 579.4,587.9 573.4,588 567.5,588 561.5,588 555.6,588.1 549.7,588.1 543.7,588.2 537.8,588.3 531.8,588.4 525.9,588.6 520,588.8 514,589.1 508.1,589.5 502.1,589.9 496.2,590.6 490.2,591.4 484.3,592.5 478.4,594 472.4,595.8 466.5,598.3 460.5,601.4 454.6,605.3 448.7,610.3 442.7,616.6 436.8,624.4 430.8,633.9 424.9,645.1 419,658.2 413,672.9 407.1,689.1 401.1,706.1 395.2,723.4 389.3,740.4 383.3,756.5 377.4,771.2 371.4,784.2 365.5,795.3 359.5,804.7 353.6,812.4 347.7,818.6 341.7,823.6 335.8,827.5 329.8,830.6 323.9,833 318,834.8 312,836.3 306.1,837.3 300.1,838.2 294.2,838.8 288.3,839.3 282.3,839.7 276.4,840 270.4,840.2 264.5,840.3 258.6,840.5 252.6,840.6 246.7,840.6 240.7,840.7 234.8,840.7 228.8,840.8 222.9,840.8 217,840.8 211,840.8 205.1,840.8 199.1,840.8 193.2,840.8Z" class="rg"/>
<path d="M780,713.2H1315 M1050.5,571.1V855.3" class="ref"/>
<circle cx="822" cy="839" r="8.9" class="pk"/>
<circle cx="918.6" cy="827.7" r="8.9" class="pk"/>
<path d="M1006,675V712" class="pk"/>
<circle cx="1006" cy="693.7" r="8.9" class="pk"/>
<circle cx="1098" cy="580.7" r="8.9" class="pk"/>
<circle cx="1178.5" cy="590.4" r="8.9" class="pk"/>
<circle cx="1263.7" cy="590.4" r="8.9" class="pk"/>
<circle cx="826.5" cy="835.8" r="8.9" class="pg"/>
<circle cx="922.4" cy="835.8" r="8.9" class="pg"/>
<path d="M1010.6,662V722.8" class="pg"/>
<circle cx="1010.6" cy="680.8" r="8.9" class="pg"/>
<circle cx="1103" cy="585.6" r="8.9" class="pg"/>
<circle cx="1178.5" cy="585.6" r="8.9" class="pg"/>
<circle cx="1262.5" cy="582.3" r="8.9" class="pg"/>
<path d="M804.6,839.5 808.6,839.5 812.6,839.5 816.6,839.5 820.6,839.5 824.6,839.5 828.6,839.5 832.6,839.5 836.6,839.5 840.6,839.5 844.6,839.5 848.6,839.5 852.6,839.4 856.6,839.4 860.6,839.4 864.6,839.3 868.6,839.3 872.6,839.2 876.6,839.1 880.6,839 884.6,838.9 888.6,838.8 892.6,838.6 896.6,838.3 900.6,838.1 904.6,837.7 908.6,837.3 912.6,836.8 916.6,836.1 920.6,835.3 924.6,834.4 928.5,833.2 932.5,831.7 936.5,830 940.5,827.8 944.5,825.2 948.5,822.1 952.5,818.4 956.5,813.9 960.5,808.6 964.5,802.5 968.5,795.3 972.5,787.1 976.5,777.8 980.5,767.4 984.5,756.1 988.5,744 992.5,731.2 996.5,718 1000.5,704.7 1004.5,691.6 1008.5,678.9 1012.5,667 1016.5,655.9 1020.5,645.8 1024.5,636.8 1028.5,628.9 1032.5,622 1036.5,616 1040.5,611 1044.5,606.7 1048.5,603.2 1052.5,600.2 1056.5,597.7 1060.5,595.7 1064.5,594 1068.5,592.6 1072.5,591.5 1076.5,590.6 1080.5,589.8 1084.5,589.2 1088.5,588.7 1092.5,588.3 1096.5,588 1100.5,587.7 1104.5,587.5 1108.5,587.3 1112.5,587.2 1116.5,587.1 1120.5,587 1124.5,586.9 1128.5,586.8 1132.5,586.8 1136.5,586.8 1140.5,586.7 1144.5,586.7 1148.5,586.7 1152.5,586.7 1156.5,586.6 1160.5,586.6 1164.5,586.6 1168.5,586.6 1172.5,586.6 1176.4,586.6 1180.4,586.6 1184.4,586.6 1188.4,586.6 1192.4,586.6 1196.4,586.6 1200.4,586.6 1204.4,586.6 1208.4,586.6 1212.4,586.6 1216.4,586.6 1220.4,586.6 1224.4,586.6 1228.4,586.6 1232.4,586.6 1236.4,586.6 1240.4,586.6 1244.4,586.6 1248.4,586.6 1252.4,586.6 1256.4,586.6 1260.4,586.6 1264.4,586.6 1268.4,586.6 1272.4,586.6 1276.4,586.6 1280.4,586.6 1284.4,586.6 1288.4,586.6 1292.4,586.6 1296.4,586.6" class="lk"/>
<path d="M804.6,839.5 808.6,839.5 812.6,839.5 816.6,839.5 820.6,839.5 824.6,839.5 828.6,839.5 832.6,839.5 836.6,839.5 840.6,839.5 844.6,839.5 848.6,839.5 852.6,839.4 856.6,839.4 860.6,839.4 864.6,839.3 868.6,839.3 872.6,839.2 876.6,839.1 880.6,839 884.6,838.9 888.6,838.8 892.6,838.6 896.6,838.3 900.6,838 904.6,837.6 908.6,837.2 912.6,836.6 916.6,835.9 920.6,835 924.6,833.9 928.5,832.5 932.5,830.8 936.5,828.8 940.5,826.3 944.5,823.2 948.5,819.5 952.5,815.1 956.5,809.8 960.5,803.5 964.5,796.2 968.5,787.7 972.5,778.1 976.5,767.3 980.5,755.4 984.5,742.7 988.5,729.2 992.5,715.4 996.5,701.6 1000.5,688 1004.5,675 1008.5,662.8 1012.5,651.6 1016.5,641.6 1020.5,632.7 1024.5,625 1028.5,618.4 1032.5,612.7 1036.5,608 1040.5,604.1 1044.5,600.8 1048.5,598.1 1052.5,596 1056.5,594.2 1060.5,592.7 1064.5,591.5 1068.5,590.6 1072.5,589.8 1076.5,589.2 1080.5,588.7 1084.5,588.3 1088.5,587.9 1092.5,587.7 1096.5,587.4 1100.5,587.3 1104.5,587.1 1108.5,587 1112.5,586.9 1116.5,586.9 1120.5,586.8 1124.5,586.8 1128.5,586.7 1132.5,586.7 1136.5,586.7 1140.5,586.7 1144.5,586.6 1148.5,586.6 1152.5,586.6 1156.5,586.6 1160.5,586.6 1164.5,586.6 1168.5,586.6 1172.5,586.6 1176.4,586.6 1180.4,586.6 1184.4,586.6 1188.4,586.6 1192.4,586.6 1196.4,586.6 1200.4,586.6 1204.4,586.6 1208.4,586.6 1212.4,586.6 1216.4,586.6 1220.4,586.6 1224.4,586.6 1228.4,586.6 1232.4,586.6 1236.4,586.6 1240.4,586.6 1244.4,586.6 1248.4,586.6 1252.4,586.6 1256.4,586.6 1260.4,586.6 1264.4,586.6 1268.4,586.6 1272.4,586.6 1276.4,586.6 1280.4,586.6 1284.4,586.6 1288.4,586.6 1292.4,586.6 1296.4,586.6" class="lg"/>
<path d="M804.6,838.2 810.6,838.2 816.6,838.2 822.6,838.2 828.6,838.2 834.6,838.2 840.6,838.2 846.6,838.1 852.6,838.1 858.6,838 864.6,837.9 870.6,837.8 876.6,837.6 882.6,837.3 888.6,836.9 894.6,836.4 900.6,835.7 906.6,834.7 912.6,833.4 918.6,831.5 924.6,829 930.5,825.5 936.5,820.8 942.5,814.5 948.5,806.4 954.5,795.9 960.5,782.9 966.5,767.2 972.5,749.1 978.5,729.1 984.5,708.2 990.5,687.5 996.5,668 1002.5,650.7 1008.5,635.9 1014.5,623.8 1020.5,614.1 1026.5,606.7 1032.5,601 1038.5,596.8 1044.5,593.6 1050.5,591.3 1056.5,589.6 1062.5,588.4 1068.5,587.5 1074.5,586.9 1080.5,586.5 1086.5,586.1 1092.5,585.9 1098.5,585.7 1104.5,585.6 1110.5,585.5 1116.5,585.4 1122.5,585.4 1128.5,585.4 1134.5,585.3 1140.5,585.3 1146.5,585.3 1152.5,585.3 1158.5,585.3 1164.5,585.3 1170.5,585.3 1176.4,585.3 1182.4,585.3 1188.4,585.3 1194.4,585.3 1200.4,585.3 1206.4,585.3 1212.4,585.3 1218.4,585.3 1224.4,585.3 1230.4,585.3 1236.4,585.3 1242.4,585.3 1248.4,585.3 1254.4,585.3 1260.4,585.3 1266.4,585.3 1272.4,585.3 1278.4,585.3 1284.4,585.3 1290.4,585.3 1296.4,585.3 1296.4,587.9 1290.4,587.9 1284.4,587.9 1278.4,587.9 1272.4,587.9 1266.4,587.9 1260.4,587.9 1254.4,587.9 1248.4,587.9 1242.4,587.9 1236.4,587.9 1230.4,587.9 1224.4,587.9 1218.4,587.9 1212.4,587.9 1206.4,587.9 1200.4,587.9 1194.4,587.9 1188.4,587.9 1182.4,587.9 1176.4,588 1170.5,588 1164.5,588 1158.5,588.1 1152.5,588.1 1146.5,588.2 1140.5,588.3 1134.5,588.4 1128.5,588.6 1122.5,588.9 1116.5,589.3 1110.5,589.7 1104.5,590.4 1098.5,591.2 1092.5,592.4 1086.5,593.9 1080.5,596 1074.5,598.7 1068.5,602.3 1062.5,607 1056.5,613 1050.5,620.7 1044.5,630.2 1038.5,641.9 1032.5,655.8 1026.5,671.7 1020.5,689.3 1014.5,708 1008.5,727 1002.5,745.4 996.5,762.5 990.5,777.8 984.5,790.9 978.5,801.9 972.5,810.8 966.5,817.9 960.5,823.4 954.5,827.7 948.5,831 942.5,833.5 936.5,835.4 930.5,836.8 924.6,837.8 918.6,838.6 912.6,839.2 906.6,839.6 900.6,839.9 894.6,840.2 888.6,840.4 882.6,840.5 876.6,840.6 870.6,840.7 864.6,840.7 858.6,840.7 852.6,840.8 846.6,840.8 840.6,840.8 834.6,840.8 828.6,840.8 822.6,840.8 816.6,840.8 810.6,840.8 804.6,840.9Z" class="rk"/>
<path d="M804.6,838.2 810.6,838.2 816.6,838.2 822.6,838.2 828.6,838.2 834.6,838.2 840.6,838.2 846.6,838.1 852.6,838.1 858.6,838 864.6,837.9 870.6,837.8 876.6,837.6 882.6,837.3 888.6,836.9 894.6,836.4 900.6,835.6 906.6,834.5 912.6,833 918.6,830.9 924.6,828 930.5,823.9 936.5,818.5 942.5,811.1 948.5,801.5 954.5,789.3 960.5,774.1 966.5,756.1 972.5,735.9 978.5,714.2 984.5,692.4 990.5,671.8 996.5,653.2 1002.5,637.4 1008.5,624.5 1014.5,614.3 1020.5,606.5 1026.5,600.7 1032.5,596.4 1038.5,593.2 1044.5,590.9 1050.5,589.3 1056.5,588.1 1062.5,587.3 1068.5,586.7 1074.5,586.3 1080.5,586 1086.5,585.8 1092.5,585.6 1098.5,585.5 1104.5,585.5 1110.5,585.4 1116.5,585.4 1122.5,585.3 1128.5,585.3 1134.5,585.3 1140.5,585.3 1146.5,585.3 1152.5,585.3 1158.5,585.3 1164.5,585.3 1170.5,585.3 1176.4,585.3 1182.4,585.3 1188.4,585.3 1194.4,585.3 1200.4,585.3 1206.4,585.3 1212.4,585.3 1218.4,585.3 1224.4,585.3 1230.4,585.3 1236.4,585.3 1242.4,585.3 1248.4,585.3 1254.4,585.3 1260.4,585.3 1266.4,585.3 1272.4,585.3 1278.4,585.3 1284.4,585.3 1290.4,585.3 1296.4,585.3 1296.4,587.9 1290.4,587.9 1284.4,587.9 1278.4,587.9 1272.4,587.9 1266.4,587.9 1260.4,587.9 1254.4,587.9 1248.4,587.9 1242.4,587.9 1236.4,587.9 1230.4,587.9 1224.4,587.9 1218.4,587.9 1212.4,587.9 1206.4,587.9 1200.4,587.9 1194.4,587.9 1188.4,587.9 1182.4,587.9 1176.4,587.9 1170.5,587.9 1164.5,588 1158.5,588 1152.5,588 1146.5,588.1 1140.5,588.1 1134.5,588.2 1128.5,588.3 1122.5,588.5 1116.5,588.7 1110.5,589 1104.5,589.4 1098.5,590 1092.5,590.8 1086.5,591.8 1080.5,593.2 1074.5,595.1 1068.5,597.7 1062.5,601.2 1056.5,605.7 1050.5,611.7 1044.5,619.3 1038.5,629 1032.5,641 1026.5,655.4 1020.5,672 1014.5,690.5 1008.5,710 1002.5,729.8 996.5,748.8 990.5,766.3 984.5,781.7 978.5,794.7 972.5,805.4 966.5,813.9 960.5,820.6 954.5,825.7 948.5,829.6 942.5,832.6 936.5,834.7 930.5,836.4 924.6,837.6 918.6,838.4 912.6,839.1 906.6,839.6 900.6,839.9 894.6,840.2 888.6,840.3 882.6,840.5 876.6,840.6 870.6,840.7 864.6,840.7 858.6,840.8 852.6,840.8 846.6,840.8 840.6,840.8 834.6,840.8 828.6,840.8 822.6,840.8 816.6,840.8 810.6,840.8 804.6,840.9Z" class="rg"/>
<path d="M168.5,1023.7H705 M439.8,881.9V1165.5" class="ref"/>
<circle cx="216" cy="1146" r="8.9" class="pk"/>
<path d="M300,1111V1129" class="pk"/>
<circle cx="300" cy="1120" r="8.9" class="pk"/>
<path d="M389,1008.5V1072.5" class="pk"/>
<circle cx="389" cy="1040.8" r="8.9" class="pk"/>
<path d="M488,914V937.5" class="pk"/>
<circle cx="488" cy="924.3" r="8.9" class="pk"/>
<circle cx="567" cy="901.7" r="8.9" class="pk"/>
<circle cx="649" cy="897.9" r="8.9" class="pk"/>
<circle cx="215" cy="1150.3" r="8.9" class="pg"/>
<path d="M305,1115V1131" class="pg"/>
<circle cx="305" cy="1123" r="8.9" class="pg"/>
<path d="M395,946V992" class="pg"/>
<circle cx="395" cy="969.8" r="8.9" class="pg"/>
<path d="M492,900V915" class="pg"/>
<circle cx="492" cy="907.6" r="8.9" class="pg"/>
<circle cx="566" cy="898.8" r="8.9" class="pg"/>
<circle cx="650.4" cy="894" r="8.9" class="pg"/>
<path d="M193.2,1149.5 197.2,1149.4 201.2,1149.3 205.1,1149.3 209.1,1149.2 213.1,1149.1 217.1,1149 221,1148.9 225,1148.7 229,1148.6 233,1148.4 236.9,1148.2 240.9,1147.9 244.9,1147.6 248.9,1147.3 252.8,1146.9 256.8,1146.4 260.8,1145.9 264.8,1145.3 268.8,1144.5 272.7,1143.7 276.7,1142.8 280.7,1141.7 284.7,1140.4 288.6,1139 292.6,1137.3 296.6,1135.4 300.6,1133.2 304.5,1130.8 308.5,1127.9 312.5,1124.8 316.5,1121.2 320.5,1117.1 324.4,1112.6 328.4,1107.6 332.4,1102.1 336.4,1096 340.3,1089.4 344.3,1082.2 348.3,1074.6 352.3,1066.4 356.2,1057.8 360.2,1048.9 364.2,1039.7 368.2,1030.3 372.1,1020.8 376.1,1011.4 380.1,1002.1 384.1,993.1 388.1,984.3 392,976 396,968.1 400,960.7 404,953.9 407.9,947.6 411.9,941.8 415.9,936.6 419.9,931.8 423.8,927.6 427.8,923.8 431.8,920.5 435.8,917.5 439.8,914.9 443.7,912.6 447.7,910.6 451.7,908.9 455.7,907.3 459.6,906 463.6,904.8 467.6,903.8 471.6,902.9 475.5,902.2 479.5,901.5 483.5,900.9 487.5,900.5 491.4,900 495.4,899.7 499.4,899.3 503.4,899.1 507.4,898.8 511.3,898.6 515.3,898.5 519.3,898.3 523.3,898.2 527.2,898.1 531.2,898 535.2,897.9 539.2,897.8 543.1,897.8 547.1,897.7 551.1,897.7 555.1,897.6 559,897.6 563,897.6 567,897.5 571,897.5 575,897.5 578.9,897.5 582.9,897.5 586.9,897.5 590.9,897.4 594.8,897.4 598.8,897.4 602.8,897.4 606.8,897.4 610.7,897.4 614.7,897.4 618.7,897.4 622.7,897.4 626.7,897.4 630.6,897.4 634.6,897.4 638.6,897.4 642.6,897.4 646.5,897.4 650.5,897.4 654.5,897.4 658.5,897.4 662.4,897.4 666.4,897.4 670.4,897.4 674.4,897.4 678.3,897.4 682.3,897.4 686.3,897.4" class="lk"/>
<path d="M193.2,1149.5 197.2,1149.4 201.2,1149.4 205.1,1149.3 209.1,1149.2 213.1,1149.1 217.1,1149 221,1148.9 225,1148.8 229,1148.6 233,1148.4 236.9,1148.2 240.9,1147.9 244.9,1147.6 248.9,1147.3 252.8,1146.8 256.8,1146.4 260.8,1145.8 264.8,1145.2 268.8,1144.4 272.7,1143.6 276.7,1142.6 280.7,1141.4 284.7,1140.1 288.6,1138.6 292.6,1136.8 296.6,1134.8 300.6,1132.5 304.5,1129.9 308.5,1126.9 312.5,1123.5 316.5,1119.7 320.5,1115.4 324.4,1110.6 328.4,1105.3 332.4,1099.4 336.4,1093 340.3,1085.9 344.3,1078.4 348.3,1070.3 352.3,1061.7 356.2,1052.8 360.2,1043.5 364.2,1034 368.2,1024.4 372.1,1014.7 376.1,1005.2 380.1,995.9 384.1,986.9 388.1,978.2 392,970.1 396,962.4 400,955.3 404,948.8 407.9,942.8 411.9,937.4 415.9,932.5 419.9,928.1 423.8,924.2 427.8,920.8 431.8,917.7 435.8,915 439.8,912.7 443.7,910.6 447.7,908.8 451.7,907.3 455.7,905.9 459.6,904.7 463.6,903.7 467.6,902.8 471.6,902.1 475.5,901.4 479.5,900.9 483.5,900.4 487.5,900 491.4,899.6 495.4,899.3 499.4,899 503.4,898.8 507.4,898.6 511.3,898.4 515.3,898.3 519.3,898.1 523.3,898 527.2,897.9 531.2,897.9 535.2,897.8 539.2,897.7 543.1,897.7 547.1,897.6 551.1,897.6 555.1,897.6 559,897.5 563,897.5 567,897.5 571,897.5 575,897.5 578.9,897.5 582.9,897.4 586.9,897.4 590.9,897.4 594.8,897.4 598.8,897.4 602.8,897.4 606.8,897.4 610.7,897.4 614.7,897.4 618.7,897.4 622.7,897.4 626.7,897.4 630.6,897.4 634.6,897.4 638.6,897.4 642.6,897.4 646.5,897.4 650.5,897.4 654.5,897.4 658.5,897.4 662.4,897.4 666.4,897.4 670.4,897.4 674.4,897.4 678.3,897.4 682.3,897.4 686.3,897.4" class="lg"/>
<path d="M193.2,1148 199.1,1147.9 205.1,1147.7 211,1147.5 217,1147.3 222.9,1147 228.8,1146.6 234.8,1146.1 240.7,1145.5 246.7,1144.7 252.6,1143.7 258.6,1142.4 264.5,1140.9 270.4,1139 276.4,1136.5 282.3,1133.6 288.3,1129.9 294.2,1125.4 300.1,1119.9 306.1,1113.4 312,1105.6 318,1096.6 323.9,1086.2 329.8,1074.5 335.8,1061.6 341.7,1047.7 347.7,1033.1 353.6,1018.2 359.5,1003.5 365.5,989.3 371.4,975.9 377.4,963.6 383.3,952.6 389.3,942.9 395.2,934.5 401.1,927.5 407.1,921.5 413,916.6 419,912.6 424.9,909.3 430.8,906.6 436.8,904.5 442.7,902.8 448.7,901.4 454.6,900.3 460.5,899.4 466.5,898.7 472.4,898.2 478.4,897.7 484.3,897.4 490.2,897.1 496.2,896.9 502.1,896.7 508.1,896.6 514,896.5 520,896.4 525.9,896.3 531.8,896.3 537.8,896.2 543.7,896.2 549.7,896.2 555.6,896.2 561.5,896.1 567.5,896.1 573.4,896.1 579.4,896.1 585.3,896.1 591.2,896.1 597.2,896.1 603.1,896.1 609.1,896.1 615,896.1 620.9,896.1 626.9,896.1 632.8,896.1 638.8,896.1 644.7,896.1 650.7,896.1 656.6,896.1 662.5,896.1 668.5,896.1 674.4,896.1 680.4,896.1 686.3,896.1 686.3,898.7 680.4,898.7 674.4,898.7 668.5,898.7 662.5,898.7 656.6,898.7 650.7,898.7 644.7,898.7 638.8,898.7 632.8,898.7 626.9,898.7 620.9,898.7 615,898.8 609.1,898.8 603.1,898.8 597.2,898.8 591.2,898.9 585.3,898.9 579.4,899 573.4,899 567.5,899.1 561.5,899.2 555.6,899.3 549.7,899.5 543.7,899.7 537.8,899.9 531.8,900.2 525.9,900.6 520,901 514,901.6 508.1,902.3 502.1,903.1 496.2,904.1 490.2,905.4 484.3,906.9 478.4,908.8 472.4,911.1 466.5,913.9 460.5,917.2 454.6,921.2 448.7,926 442.7,931.7 436.8,938.3 430.8,945.9 424.9,954.7 419,964.6 413,975.5 407.1,987.3 401.1,1000 395.2,1013.1 389.3,1026.6 383.3,1040 377.4,1053 371.4,1065.5 365.5,1077.1 359.5,1087.8 353.6,1097.3 347.7,1105.8 341.7,1113.2 335.8,1119.6 329.8,1125 323.9,1129.6 318,1133.4 312,1136.6 306.1,1139.3 300.1,1141.5 294.2,1143.2 288.3,1144.7 282.3,1145.9 276.4,1146.9 270.4,1147.7 264.5,1148.3 258.6,1148.8 252.6,1149.3 246.7,1149.6 240.7,1149.9 234.8,1150.1 228.8,1150.3 222.9,1150.4 217,1150.6 211,1150.7 205.1,1150.7 199.1,1150.8 193.2,1150.9Z" class="rk"/>
<path d="M193.2,1148 199.1,1147.9 205.1,1147.8 211,1147.6 217,1147.3 222.9,1147 228.8,1146.6 234.8,1146.2 240.7,1145.5 246.7,1144.7 252.6,1143.8 258.6,1142.5 264.5,1140.9 270.4,1139 276.4,1136.5 282.3,1133.4 288.3,1129.7 294.2,1125 300.1,1119.4 306.1,1112.6 312,1104.6 318,1095.1 323.9,1084.3 329.8,1072.2 335.8,1058.8 341.7,1044.5 347.7,1029.5 353.6,1014.3 359.5,999.4 365.5,985.1 371.4,971.8 377.4,959.7 383.3,948.9 389.3,939.6 395.2,931.6 401.1,924.9 407.1,919.3 413,914.7 419,910.9 424.9,907.9 430.8,905.5 436.8,903.5 442.7,902 448.7,900.7 454.6,899.8 460.5,899 466.5,898.4 472.4,897.9 478.4,897.5 484.3,897.2 490.2,897 496.2,896.8 502.1,896.6 508.1,896.5 514,896.4 520,896.3 525.9,896.3 531.8,896.2 537.8,896.2 543.7,896.2 549.7,896.2 555.6,896.1 561.5,896.1 567.5,896.1 573.4,896.1 579.4,896.1 585.3,896.1 591.2,896.1 597.2,896.1 603.1,896.1 609.1,896.1 615,896.1 620.9,896.1 626.9,896.1 632.8,896.1 638.8,896.1 644.7,896.1 650.7,896.1 656.6,896.1 662.5,896.1 668.5,896.1 674.4,896.1 680.4,896.1 686.3,896.1 686.3,898.7 680.4,898.7 674.4,898.7 668.5,898.7 662.5,898.7 656.6,898.7 650.7,898.7 644.7,898.7 638.8,898.7 632.8,898.7 626.9,898.7 620.9,898.7 615,898.7 609.1,898.8 603.1,898.8 597.2,898.8 591.2,898.8 585.3,898.9 579.4,898.9 573.4,898.9 567.5,899 561.5,899.1 555.6,899.2 549.7,899.3 543.7,899.5 537.8,899.7 531.8,899.9 525.9,900.2 520,900.6 514,901 508.1,901.6 502.1,902.3 496.2,903.1 490.2,904.2 484.3,905.5 478.4,907.1 472.4,909.1 466.5,911.5 460.5,914.4 454.6,917.9 448.7,922.2 442.7,927.2 436.8,933.2 430.8,940.2 424.9,948.3 419,957.6 413,968 407.1,979.4 401.1,991.8 395.2,1004.9 389.3,1018.5 383.3,1032.2 377.4,1045.8 371.4,1058.8 365.5,1071.2 359.5,1082.6 353.6,1092.9 347.7,1102 341.7,1110.1 335.8,1117 329.8,1122.9 323.9,1127.9 318,1132.1 312,1135.6 306.1,1138.5 300.1,1140.8 294.2,1142.8 288.3,1144.3 282.3,1145.6 276.4,1146.7 270.4,1147.5 264.5,1148.2 258.6,1148.8 252.6,1149.2 246.7,1149.6 240.7,1149.9 234.8,1150.1 228.8,1150.3 222.9,1150.4 217,1150.6 211,1150.7 205.1,1150.7 199.1,1150.8 193.2,1150.9Z" class="rg"/>
<path d="M780,1023.7H1315 M1050.5,881.9V1165.5" class="ref"/>
<circle cx="825" cy="1140" r="8.9" class="pk"/>
<path d="M918.5,1062V1119.5" class="pk"/>
<circle cx="918.5" cy="1090" r="8.9" class="pk"/>
<path d="M1009.5,980V1046" class="pk"/>
<circle cx="1009.5" cy="1011.8" r="8.9" class="pk"/>
<circle cx="1102" cy="894" r="8.9" class="pk"/>
<path d="M1174.4,893V910" class="pk"/>
<circle cx="1174.4" cy="901.7" r="8.9" class="pk"/>
<circle cx="1256" cy="899.4" r="8.9" class="pk"/>
<path d="M825,1140V1152" class="pg"/>
<circle cx="825" cy="1146" r="8.9" class="pg"/>
<path d="M917,1121V1141" class="pg"/>
<circle cx="917" cy="1131" r="8.9" class="pg"/>
<path d="M1009,1025.5V1091.6" class="pg"/>
<circle cx="1009" cy="1057.8" r="8.9" class="pg"/>
<path d="M1098,896V913" class="pg"/>
<circle cx="1098" cy="904.6" r="8.9" class="pg"/>
<path d="M1177.4,905V922" class="pg"/>
<circle cx="1177.4" cy="913.4" r="8.9" class="pg"/>
<path d="M1256.6,895V908" class="pg"/>
<circle cx="1256.6" cy="901.7" r="8.9" class="pg"/>
<path d="M804.6,1149.3 808.6,1149.2 812.6,1149.1 816.6,1149 820.6,1148.9 824.6,1148.7 828.6,1148.5 832.6,1148.4 836.6,1148.1 840.6,1147.9 844.6,1147.6 848.6,1147.2 852.6,1146.8 856.6,1146.4 860.6,1145.9 864.6,1145.3 868.6,1144.6 872.6,1143.8 876.6,1142.8 880.6,1141.8 884.6,1140.6 888.6,1139.2 892.6,1137.6 896.6,1135.8 900.6,1133.7 904.6,1131.4 908.6,1128.7 912.6,1125.7 916.6,1122.3 920.6,1118.5 924.6,1114.3 928.5,1109.6 932.5,1104.4 936.5,1098.7 940.5,1092.5 944.5,1085.7 948.5,1078.5 952.5,1070.8 956.5,1062.6 960.5,1054.1 964.5,1045.2 968.5,1036.2 972.5,1027 976.5,1017.7 980.5,1008.6 984.5,999.5 988.5,990.8 992.5,982.3 996.5,974.3 1000.5,966.7 1004.5,959.6 1008.5,953 1012.5,946.9 1016.5,941.3 1020.5,936.2 1024.5,931.7 1028.5,927.6 1032.5,923.9 1036.5,920.6 1040.5,917.7 1044.5,915.1 1048.5,912.8 1052.5,910.9 1056.5,909.1 1060.5,907.6 1064.5,906.2 1068.5,905.1 1072.5,904 1076.5,903.2 1080.5,902.4 1084.5,901.7 1088.5,901.1 1092.5,900.6 1096.5,900.2 1100.5,899.8 1104.5,899.5 1108.5,899.2 1112.5,899 1116.5,898.7 1120.5,898.6 1124.5,898.4 1128.5,898.3 1132.5,898.1 1136.5,898 1140.5,897.9 1144.5,897.9 1148.5,897.8 1152.5,897.7 1156.5,897.7 1160.5,897.7 1164.5,897.6 1168.5,897.6 1172.5,897.6 1176.4,897.5 1180.4,897.5 1184.4,897.5 1188.4,897.5 1192.4,897.5 1196.4,897.5 1200.4,897.4 1204.4,897.4 1208.4,897.4 1212.4,897.4 1216.4,897.4 1220.4,897.4 1224.4,897.4 1228.4,897.4 1232.4,897.4 1236.4,897.4 1240.4,897.4 1244.4,897.4 1248.4,897.4 1252.4,897.4 1256.4,897.4 1260.4,897.4 1264.4,897.4 1268.4,897.4 1272.4,897.4 1276.4,897.4 1280.4,897.4 1284.4,897.4 1288.4,897.4 1292.4,897.4 1296.4,897.4" class="lk"/>
<path d="M804.6,1149.6 808.6,1149.5 812.6,1149.5 816.6,1149.5 820.6,1149.4 824.6,1149.4 828.6,1149.3 832.6,1149.2 836.6,1149.1 840.6,1149 844.6,1148.9 848.6,1148.8 852.6,1148.7 856.6,1148.5 860.6,1148.3 864.6,1148.1 868.6,1147.9 872.6,1147.6 876.6,1147.2 880.6,1146.9 884.6,1146.4 888.6,1145.9 892.6,1145.4 896.6,1144.7 900.6,1144 904.6,1143.1 908.6,1142.1 912.6,1141 916.6,1139.7 920.6,1138.3 924.6,1136.6 928.5,1134.8 932.5,1132.7 936.5,1130.3 940.5,1127.6 944.5,1124.6 948.5,1121.2 952.5,1117.4 956.5,1113.2 960.5,1108.6 964.5,1103.5 968.5,1098 972.5,1092 976.5,1085.4 980.5,1078.5 984.5,1071 988.5,1063.2 992.5,1055.1 996.5,1046.6 1000.5,1037.9 1004.5,1029.1 1008.5,1020.2 1012.5,1011.4 1016.5,1002.6 1020.5,994.1 1024.5,985.9 1028.5,977.9 1032.5,970.4 1036.5,963.3 1040.5,956.7 1044.5,950.6 1048.5,944.9 1052.5,939.7 1056.5,935 1060.5,930.7 1064.5,926.8 1068.5,923.4 1072.5,920.3 1076.5,917.5 1080.5,915 1084.5,912.9 1088.5,910.9 1092.5,909.2 1096.5,907.7 1100.5,906.4 1104.5,905.3 1108.5,904.3 1112.5,903.4 1116.5,902.6 1120.5,901.9 1124.5,901.3 1128.5,900.8 1132.5,900.4 1136.5,900 1140.5,899.7 1144.5,899.4 1148.5,899.1 1152.5,898.9 1156.5,898.7 1160.5,898.5 1164.5,898.4 1168.5,898.2 1172.5,898.1 1176.4,898 1180.4,897.9 1184.4,897.9 1188.4,897.8 1192.4,897.7 1196.4,897.7 1200.4,897.7 1204.4,897.6 1208.4,897.6 1212.4,897.6 1216.4,897.5 1220.4,897.5 1224.4,897.5 1228.4,897.5 1232.4,897.5 1236.4,897.5 1240.4,897.4 1244.4,897.4 1248.4,897.4 1252.4,897.4 1256.4,897.4 1260.4,897.4 1264.4,897.4 1268.4,897.4 1272.4,897.4 1276.4,897.4 1280.4,897.4 1284.4,897.4 1288.4,897.4 1292.4,897.4 1296.4,897.4" class="lg"/>
<path d="M804.6,1147.5 810.6,1147.3 816.6,1146.9 822.6,1146.5 828.6,1146.1 834.6,1145.4 840.6,1144.7 846.6,1143.7 852.6,1142.5 858.6,1141 864.6,1139.1 870.6,1136.8 876.6,1133.9 882.6,1130.4 888.6,1126.1 894.6,1120.9 900.6,1114.7 906.6,1107.3 912.6,1098.7 918.6,1088.9 924.6,1077.7 930.5,1065.4 936.5,1052 942.5,1037.9 948.5,1023.4 954.5,1008.8 960.5,994.7 966.5,981.2 972.5,968.7 978.5,957.3 984.5,947.2 990.5,938.4 996.5,930.9 1002.5,924.5 1008.5,919.2 1014.5,914.8 1020.5,911.1 1026.5,908.2 1032.5,905.8 1038.5,903.8 1044.5,902.3 1050.5,901 1056.5,900 1062.5,899.2 1068.5,898.6 1074.5,898.1 1080.5,897.7 1086.5,897.3 1092.5,897.1 1098.5,896.9 1104.5,896.7 1110.5,896.6 1116.5,896.5 1122.5,896.4 1128.5,896.3 1134.5,896.3 1140.5,896.2 1146.5,896.2 1152.5,896.2 1158.5,896.2 1164.5,896.1 1170.5,896.1 1176.4,896.1 1182.4,896.1 1188.4,896.1 1194.4,896.1 1200.4,896.1 1206.4,896.1 1212.4,896.1 1218.4,896.1 1224.4,896.1 1230.4,896.1 1236.4,896.1 1242.4,896.1 1248.4,896.1 1254.4,896.1 1260.4,896.1 1266.4,896.1 1272.4,896.1 1278.4,896.1 1284.4,896.1 1290.4,896.1 1296.4,896.1 1296.4,898.7 1290.4,898.7 1284.4,898.7 1278.4,898.7 1272.4,898.7 1266.4,898.7 1260.4,898.7 1254.4,898.7 1248.4,898.7 1242.4,898.7 1236.4,898.7 1230.4,898.8 1224.4,898.8 1218.4,898.8 1212.4,898.8 1206.4,898.9 1200.4,898.9 1194.4,899 1188.4,899 1182.4,899.1 1176.4,899.2 1170.5,899.3 1164.5,899.5 1158.5,899.6 1152.5,899.9 1146.5,900.1 1140.5,900.5 1134.5,900.9 1128.5,901.4 1122.5,902 1116.5,902.8 1110.5,903.7 1104.5,904.9 1098.5,906.3 1092.5,908 1086.5,910.1 1080.5,912.6 1074.5,915.6 1068.5,919.2 1062.5,923.5 1056.5,928.6 1050.5,934.6 1044.5,941.5 1038.5,949.5 1032.5,958.5 1026.5,968.6 1020.5,979.6 1014.5,991.5 1008.5,1004.1 1002.5,1017.1 996.5,1030.3 990.5,1043.4 984.5,1056.1 978.5,1068.1 972.5,1079.3 966.5,1089.6 960.5,1098.8 954.5,1106.9 948.5,1114 942.5,1120.2 936.5,1125.4 930.5,1129.8 924.6,1133.6 918.6,1136.7 912.6,1139.3 906.6,1141.4 900.6,1143.2 894.6,1144.6 888.6,1145.8 882.6,1146.8 876.6,1147.6 870.6,1148.2 864.6,1148.8 858.6,1149.2 852.6,1149.5 846.6,1149.8 840.6,1150.1 834.6,1150.3 828.6,1150.4 822.6,1150.5 816.6,1150.6 810.6,1150.7 804.6,1150.8Z" class="rk"/>
<path d="M804.6,1148.1 810.6,1148 816.6,1147.9 822.6,1147.7 828.6,1147.5 834.6,1147.3 840.6,1147 846.6,1146.6 852.6,1146.2 858.6,1145.6 864.6,1144.9 870.6,1144.1 876.6,1143 882.6,1141.7 888.6,1140 894.6,1138 900.6,1135.5 906.6,1132.5 912.6,1128.9 918.6,1124.4 924.6,1119.1 930.5,1112.9 936.5,1105.5 942.5,1097 948.5,1087.3 954.5,1076.4 960.5,1064.5 966.5,1051.6 972.5,1038 978.5,1024.1 984.5,1010.1 990.5,996.4 996.5,983.3 1002.5,971.1 1008.5,959.9 1014.5,949.9 1020.5,941.1 1026.5,933.4 1032.5,926.9 1038.5,921.4 1044.5,916.8 1050.5,912.9 1056.5,909.7 1062.5,907.1 1068.5,905 1074.5,903.3 1080.5,901.9 1086.5,900.7 1092.5,899.8 1098.5,899.1 1104.5,898.5 1110.5,898 1116.5,897.6 1122.5,897.3 1128.5,897.1 1134.5,896.9 1140.5,896.7 1146.5,896.6 1152.5,896.5 1158.5,896.4 1164.5,896.3 1170.5,896.3 1176.4,896.2 1182.4,896.2 1188.4,896.2 1194.4,896.2 1200.4,896.1 1206.4,896.1 1212.4,896.1 1218.4,896.1 1224.4,896.1 1230.4,896.1 1236.4,896.1 1242.4,896.1 1248.4,896.1 1254.4,896.1 1260.4,896.1 1266.4,896.1 1272.4,896.1 1278.4,896.1 1284.4,896.1 1290.4,896.1 1296.4,896.1 1296.4,898.7 1290.4,898.7 1284.4,898.7 1278.4,898.7 1272.4,898.8 1266.4,898.8 1260.4,898.8 1254.4,898.8 1248.4,898.9 1242.4,898.9 1236.4,899 1230.4,899 1224.4,899.1 1218.4,899.2 1212.4,899.3 1206.4,899.5 1200.4,899.6 1194.4,899.9 1188.4,900.1 1182.4,900.4 1176.4,900.8 1170.5,901.3 1164.5,901.9 1158.5,902.6 1152.5,903.5 1146.5,904.5 1140.5,905.7 1134.5,907.3 1128.5,909.1 1122.5,911.3 1116.5,914 1110.5,917.1 1104.5,920.9 1098.5,925.3 1092.5,930.5 1086.5,936.5 1080.5,943.4 1074.5,951.3 1068.5,960.2 1062.5,970 1056.5,980.7 1050.5,992.2 1044.5,1004.3 1038.5,1016.8 1032.5,1029.5 1026.5,1042.1 1020.5,1054.3 1014.5,1066 1008.5,1077 1002.5,1087 996.5,1096.2 990.5,1104.3 984.5,1111.5 978.5,1117.8 972.5,1123.2 966.5,1127.8 960.5,1131.7 954.5,1135 948.5,1137.8 942.5,1140.1 936.5,1142 930.5,1143.6 924.6,1144.9 918.6,1146 912.6,1146.9 906.6,1147.7 900.6,1148.3 894.6,1148.8 888.6,1149.2 882.6,1149.5 876.6,1149.8 870.6,1150 864.6,1150.2 858.6,1150.4 852.6,1150.5 846.6,1150.6 840.6,1150.7 834.6,1150.8 828.6,1150.8 822.6,1150.9 816.6,1150.9 810.6,1150.9 804.6,1151Z" class="rg"/>
<path d="M168.6,570.1V855.3M168.6,584h-13.5M168.6,648.6h-13.5M168.6,713.2h-13.5M168.6,777.8h-13.5M168.6,842.4h-13.5" class="ax"/>
<text x="144.6" y="596.2" class="t ae">1.00</text>
<text x="144.6" y="660.8" class="t ae">0.75</text>
<text x="144.6" y="725.4" class="t ae">0.50</text>
<text x="144.6" y="790" class="t ae">0.25</text>
<text x="144.6" y="854.6" class="t ae">0.00</text>
<path d="M168.6,880.9V1165.2M168.6,894.8h-13.5M168.6,959.2h-13.5M168.6,1023.7h-13.5M168.6,1088.1h-13.5M168.6,1152.6h-13.5" class="ax"/>
<text x="144.6" y="907" class="t ae">1.00</text>
<text x="144.6" y="971.5" class="t ae">0.75</text>
<text x="144.6" y="1035.9" class="t ae">0.50</text>
<text x="144.6" y="1100.3" class="t ae">0.25</text>
<text x="144.6" y="1164.8" class="t ae">0.00</text>
<path d="M166.2,1165.2H711M193.2,1165.2v14.2M217.9,1165.2v14.2M242.5,1165.2v14.2M267.2,1165.2v14.2M291.8,1165.2v14.2M316.5,1165.2v14.2M341.1,1165.2v14.2M365.8,1165.2v14.2M390.4,1165.2v14.2M415.1,1165.2v14.2M439.8,1165.2v14.2M464.4,1165.2v14.2M489.1,1165.2v14.2M513.7,1165.2v14.2M538.4,1165.2v14.2M563,1165.2v14.2M587.7,1165.2v14.2M612.3,1165.2v14.2M637,1165.2v14.2M661.6,1165.2v14.2M686.3,1165.2v14.2" class="ax"/>
<text x="193.2" y="1214" class="t am">100%</text>
<text x="193.2" y="1250.2" class="t am">happy</text>
<text x="439.8" y="1214" class="t am">neutral</text>
<text x="686.3" y="1214" class="t am">100%</text>
<text x="686.3" y="1250.2" class="t am">sad</text>
<path d="M780,1165.2H1321M804.6,1165.2v14.2M829.2,1165.2v14.2M853.8,1165.2v14.2M878.4,1165.2v14.2M903,1165.2v14.2M927.6,1165.2v14.2M952.1,1165.2v14.2M976.7,1165.2v14.2M1001.3,1165.2v14.2M1025.9,1165.2v14.2M1050.5,1165.2v14.2M1075.1,1165.2v14.2M1099.7,1165.2v14.2M1124.3,1165.2v14.2M1148.9,1165.2v14.2M1173.5,1165.2v14.2M1198,1165.2v14.2M1222.6,1165.2v14.2M1247.2,1165.2v14.2M1271.8,1165.2v14.2M1296.4,1165.2v14.2" class="ax"/>
<text x="804.6" y="1214" class="t am">100%</text>
<text x="804.6" y="1250.2" class="t am">happy</text>
<text x="1050.5" y="1214" class="t am">neutral</text>
<text x="1296.4" y="1214" class="t am">100%</text>
<text x="1296.4" y="1250.2" class="t am">sad</text>
<text x="439.8" y="546.4" class="t am">T1</text>
<text x="1050.9" y="546.4" class="t am">T2</text>
<text transform="translate(1344.3,722.5) rotate(90)" class="t am">non-refugees</text>
<text transform="translate(1344.3,1026.3) rotate(90)" class="t am">refugees</text>
<text transform="translate(56,868.4) rotate(-90)" class="tt am">choice probability</text>
<text x="744.8" y="1301.8" class="tt am">morph level</text>
<text x="6.5" y="507.3" class="pl">B</text>
<path d="M168.5,1621.7H705 M439.8,1478.9V1764.5" class="ref"/>
<path d="M212,1706V1731.5" class="pk"/>
<circle cx="212" cy="1718.9" r="8.9" class="pk"/>
<path d="M305.6,1694V1724" class="pk"/>
<circle cx="305.6" cy="1711" r="8.9" class="pk"/>
<path d="M406,1598.5V1663" class="pk"/>
<circle cx="406" cy="1627.3" r="8.9" class="pk"/>
<path d="M498.7,1559.8V1615" class="pk"/>
<circle cx="498.7" cy="1585.6" r="8.9" class="pk"/>
<path d="M565.3,1548V1585.6" class="pk"/>
<circle cx="565.3" cy="1567" r="8.9" class="pk"/>
<path d="M652,1511V1533" class="pk"/>
<circle cx="652" cy="1521.6" r="8.9" class="pk"/>
<path d="M214,1737V1749" class="pg"/>
<circle cx="214" cy="1743" r="8.9" class="pg"/>
<path d="M306,1711V1728" class="pg"/>
<circle cx="306" cy="1719.7" r="8.9" class="pg"/>
<path d="M399.5,1614V1665.5" class="pg"/>
<circle cx="399.5" cy="1639" r="8.9" class="pg"/>
<path d="M497.8,1536V1579" class="pg"/>
<circle cx="497.8" cy="1556.9" r="8.9" class="pg"/>
<path d="M563.8,1518.7V1540.7" class="pg"/>
<circle cx="563.8" cy="1529.9" r="8.9" class="pg"/>
<path d="M653.4,1511V1537" class="pg"/>
<circle cx="653.4" cy="1523" r="8.9" class="pg"/>
<path d="M193.2,1742.5 197.2,1742.3 201.2,1742.1 205.1,1741.9 209.1,1741.7 213.1,1741.5 217.1,1741.2 221,1741 225,1740.7 229,1740.3 233,1740 236.9,1739.6 240.9,1739.2 244.9,1738.7 248.9,1738.3 252.8,1737.7 256.8,1737.2 260.8,1736.6 264.8,1735.9 268.8,1735.2 272.7,1734.4 276.7,1733.6 280.7,1732.7 284.7,1731.7 288.6,1730.7 292.6,1729.6 296.6,1728.4 300.6,1727.1 304.5,1725.7 308.5,1724.2 312.5,1722.6 316.5,1720.9 320.5,1719 324.4,1717.1 328.4,1715 332.4,1712.8 336.4,1710.4 340.3,1707.9 344.3,1705.3 348.3,1702.5 352.3,1699.5 356.2,1696.4 360.2,1693.1 364.2,1689.6 368.2,1686 372.1,1682.2 376.1,1678.3 380.1,1674.2 384.1,1670 388.1,1665.6 392,1661.1 396,1656.5 400,1651.8 404,1647 407.9,1642.1 411.9,1637.1 415.9,1632 419.9,1627 423.8,1621.9 427.8,1616.8 431.8,1611.7 435.8,1606.7 439.8,1601.7 443.7,1596.8 447.7,1592 451.7,1587.2 455.7,1582.6 459.6,1578.1 463.6,1573.7 467.6,1569.5 471.6,1565.4 475.5,1561.5 479.5,1557.7 483.5,1554.1 487.5,1550.6 491.4,1547.3 495.4,1544.2 499.4,1541.2 503.4,1538.4 507.4,1535.7 511.3,1533.2 515.3,1530.8 519.3,1528.6 523.3,1526.5 527.2,1524.5 531.2,1522.7 535.2,1521 539.2,1519.3 543.1,1517.8 547.1,1516.5 551.1,1515.1 555.1,1513.9 559,1512.8 563,1511.8 567,1510.8 571,1509.9 575,1509.1 578.9,1508.3 582.9,1507.6 586.9,1506.9 590.9,1506.3 594.8,1505.7 598.8,1505.2 602.8,1504.7 606.8,1504.2 610.7,1503.8 614.7,1503.4 618.7,1503.1 622.7,1502.8 626.7,1502.5 630.6,1502.2 634.6,1501.9 638.6,1501.7 642.6,1501.5 646.5,1501.3 650.5,1501.1 654.5,1500.9 658.5,1500.8 662.4,1500.6 666.4,1500.5 670.4,1500.3 674.4,1500.2 678.3,1500.1 682.3,1500 686.3,1499.9" class="lk"/>
<path d="M193.2,1743.9 197.2,1743.9 201.2,1743.8 205.1,1743.7 209.1,1743.6 213.1,1743.5 217.1,1743.4 221,1743.3 225,1743.2 229,1743 233,1742.9 236.9,1742.7 240.9,1742.5 244.9,1742.3 248.9,1742.1 252.8,1741.8 256.8,1741.5 260.8,1741.2 264.8,1740.9 268.8,1740.5 272.7,1740 276.7,1739.6 280.7,1739.1 284.7,1738.5 288.6,1737.8 292.6,1737.1 296.6,1736.4 300.6,1735.5 304.5,1734.6 308.5,1733.5 312.5,1732.4 316.5,1731.2 320.5,1729.8 324.4,1728.3 328.4,1726.7 332.4,1724.9 336.4,1722.9 340.3,1720.8 344.3,1718.5 348.3,1716 352.3,1713.3 356.2,1710.4 360.2,1707.2 364.2,1703.9 368.2,1700.2 372.1,1696.4 376.1,1692.2 380.1,1687.9 384.1,1683.2 388.1,1678.4 392,1673.3 396,1667.9 400,1662.4 404,1656.7 407.9,1650.7 411.9,1644.7 415.9,1638.5 419.9,1632.3 423.8,1625.9 427.8,1619.6 431.8,1613.3 435.8,1607 439.8,1600.8 443.7,1594.7 447.7,1588.7 451.7,1582.9 455.7,1577.3 459.6,1571.9 463.6,1566.7 467.6,1561.8 471.6,1557.1 475.5,1552.6 479.5,1548.4 483.5,1544.4 487.5,1540.7 491.4,1537.3 495.4,1534 499.4,1531 503.4,1528.3 507.4,1525.7 511.3,1523.3 515.3,1521.2 519.3,1519.1 523.3,1517.3 527.2,1515.6 531.2,1514.1 535.2,1512.7 539.2,1511.4 543.1,1510.2 547.1,1509.2 551.1,1508.2 555.1,1507.3 559,1506.5 563,1505.8 567,1505.1 571,1504.5 575,1504 578.9,1503.5 582.9,1503.1 586.9,1502.7 590.9,1502.3 594.8,1502 598.8,1501.7 602.8,1501.4 606.8,1501.2 610.7,1500.9 614.7,1500.7 618.7,1500.6 622.7,1500.4 626.7,1500.3 630.6,1500.1 634.6,1500 638.6,1499.9 642.6,1499.8 646.5,1499.7 650.5,1499.6 654.5,1499.6 658.5,1499.5 662.4,1499.4 666.4,1499.4 670.4,1499.3 674.4,1499.3 678.3,1499.3 682.3,1499.2 686.3,1499.2" class="lg"/>
<path d="M193.2,1740.5 199.1,1740.2 205.1,1739.7 211,1739.3 217,1738.7 222.9,1738.1 228.8,1737.4 234.8,1736.7 240.7,1735.8 246.7,1734.8 252.6,1733.7 258.6,1732.4 264.5,1731 270.4,1729.4 276.4,1727.6 282.3,1725.6 288.3,1723.3 294.2,1720.8 300.1,1718 306.1,1714.9 312,1711.4 318,1707.7 323.9,1703.5 329.8,1699 335.8,1694.1 341.7,1688.8 347.7,1683 353.6,1676.9 359.5,1670.4 365.5,1663.6 371.4,1656.4 377.4,1649 383.3,1641.3 389.3,1633.5 395.2,1625.5 401.1,1617.5 407.1,1609.6 413,1601.7 419,1594 424.9,1586.4 430.8,1579.2 436.8,1572.3 442.7,1565.7 448.7,1559.4 454.6,1553.6 460.5,1548.2 466.5,1543.1 472.4,1538.5 478.4,1534.3 484.3,1530.4 490.2,1526.9 496.2,1523.7 502.1,1520.8 508.1,1518.2 514,1515.9 520,1513.8 525.9,1511.9 531.8,1510.3 537.8,1508.8 543.7,1507.5 549.7,1506.3 555.6,1505.3 561.5,1504.4 567.5,1503.6 573.4,1502.9 579.4,1502.2 585.3,1501.7 591.2,1501.2 597.2,1500.8 603.1,1500.4 609.1,1500 615,1499.7 620.9,1499.5 626.9,1499.3 632.8,1499.1 638.8,1498.9 644.7,1498.7 650.7,1498.6 656.6,1498.5 662.5,1498.4 668.5,1498.3 674.4,1498.2 680.4,1498.1 686.3,1498.1 686.3,1502.4 680.4,1502.7 674.4,1503 668.5,1503.3 662.5,1503.7 656.6,1504.1 650.7,1504.6 644.7,1505.2 638.8,1505.8 632.8,1506.4 626.9,1507.2 620.9,1508.1 615,1509 609.1,1510.1 603.1,1511.2 597.2,1512.5 591.2,1514 585.3,1515.6 579.4,1517.4 573.4,1519.4 567.5,1521.6 561.5,1524 555.6,1526.6 549.7,1529.6 543.7,1532.7 537.8,1536.2 531.8,1540 525.9,1544.1 520,1548.5 514,1553.2 508.1,1558.3 502.1,1563.7 496.2,1569.4 490.2,1575.4 484.3,1581.7 478.4,1588.2 472.4,1595 466.5,1601.9 460.5,1609 454.6,1616.2 448.7,1623.4 442.7,1630.6 436.8,1637.8 430.8,1644.9 424.9,1651.8 419,1658.6 413,1665.1 407.1,1671.3 401.1,1677.3 395.2,1683 389.3,1688.3 383.3,1693.3 377.4,1698 371.4,1702.4 365.5,1706.5 359.5,1710.2 353.6,1713.6 347.7,1716.8 341.7,1719.7 335.8,1722.3 329.8,1724.7 323.9,1726.9 318,1728.8 312,1730.6 306.1,1732.2 300.1,1733.6 294.2,1734.9 288.3,1736.1 282.3,1737.1 276.4,1738.1 270.4,1738.9 264.5,1739.6 258.6,1740.3 252.6,1740.9 246.7,1741.4 240.7,1741.9 234.8,1742.3 228.8,1742.7 222.9,1743.1 217,1743.4 211,1743.6 205.1,1743.9 199.1,1744.1 193.2,1744.3Z" class="rk"/>
<path d="M193.2,1742.5 199.1,1742.4 205.1,1742.2 211,1742.1 217,1741.9 222.9,1741.6 228.8,1741.3 234.8,1741 240.7,1740.6 246.7,1740.2 252.6,1739.7 258.6,1739.1 264.5,1738.4 270.4,1737.5 276.4,1736.6 282.3,1735.4 288.3,1734.1 294.2,1732.6 300.1,1730.8 306.1,1728.8 312,1726.4 318,1723.6 323.9,1720.5 329.8,1716.9 335.8,1712.9 341.7,1708.3 347.7,1703.2 353.6,1697.4 359.5,1691.1 365.5,1684.1 371.4,1676.5 377.4,1668.3 383.3,1659.6 389.3,1650.4 395.2,1640.9 401.1,1631.1 407.1,1621.1 413,1611.2 419,1601.3 424.9,1591.7 430.8,1582.5 436.8,1573.7 442.7,1565.5 448.7,1557.8 454.6,1550.7 460.5,1544.3 466.5,1538.4 472.4,1533.2 478.4,1528.5 484.3,1524.4 490.2,1520.8 496.2,1517.6 502.1,1514.8 508.1,1512.4 514,1510.3 520,1508.5 525.9,1506.9 531.8,1505.5 537.8,1504.4 543.7,1503.4 549.7,1502.5 555.6,1501.8 561.5,1501.2 567.5,1500.7 573.4,1500.2 579.4,1499.8 585.3,1499.5 591.2,1499.2 597.2,1499 603.1,1498.8 609.1,1498.6 615,1498.5 620.9,1498.3 626.9,1498.2 632.8,1498.1 638.8,1498 644.7,1498 650.7,1497.9 656.6,1497.9 662.5,1497.8 668.5,1497.8 674.4,1497.8 680.4,1497.8 686.3,1497.7 686.3,1500.8 680.4,1500.9 674.4,1501.1 668.5,1501.2 662.5,1501.3 656.6,1501.5 650.7,1501.7 644.7,1502 638.8,1502.3 632.8,1502.6 626.9,1502.9 620.9,1503.4 615,1503.9 609.1,1504.4 603.1,1505.1 597.2,1505.8 591.2,1506.7 585.3,1507.7 579.4,1508.8 573.4,1510.2 567.5,1511.7 561.5,1513.4 555.6,1515.3 549.7,1517.6 543.7,1520.1 537.8,1522.9 531.8,1526.2 525.9,1529.8 520,1533.8 514,1538.3 508.1,1543.3 502.1,1548.8 496.2,1554.7 490.2,1561.2 484.3,1568.2 478.4,1575.7 472.4,1583.6 466.5,1591.8 460.5,1600.4 454.6,1609.2 448.7,1618.2 442.7,1627.2 436.8,1636.2 430.8,1645 424.9,1653.6 419,1661.9 413,1669.8 407.1,1677.3 401.1,1684.3 395.2,1690.9 389.3,1696.9 383.3,1702.4 377.4,1707.4 371.4,1711.9 365.5,1716 359.5,1719.6 353.6,1722.9 347.7,1725.7 341.7,1728.3 335.8,1730.5 329.8,1732.5 323.9,1734.2 318,1735.7 312,1737.1 306.1,1738.2 300.1,1739.2 294.2,1740.1 288.3,1740.9 282.3,1741.5 276.4,1742.1 270.4,1742.6 264.5,1743 258.6,1743.4 252.6,1743.7 246.7,1744 240.7,1744.3 234.8,1744.5 228.8,1744.6 222.9,1744.8 217,1744.9 211,1745 205.1,1745.2 199.1,1745.2 193.2,1745.3Z" class="rg"/>
<path d="M780,1621.7H1315 M1050.5,1478.9V1764.5" class="ref"/>
<path d="M823,1720V1737" class="pk"/>
<circle cx="823" cy="1728.6" r="8.9" class="pk"/>
<path d="M924.4,1628.8V1681.6" class="pk"/>
<circle cx="924.4" cy="1655" r="8.9" class="pk"/>
<path d="M1008,1572V1612" class="pk"/>
<circle cx="1008" cy="1592" r="8.9" class="pk"/>
<path d="M1105,1507V1540.7" class="pk"/>
<circle cx="1105" cy="1523" r="8.9" class="pk"/>
<path d="M1171.5,1508.4V1533.4" class="pk"/>
<circle cx="1171.5" cy="1521" r="8.9" class="pk"/>
<path d="M1268.3,1510V1536.3" class="pk"/>
<circle cx="1268.3" cy="1523" r="8.9" class="pk"/>
<path d="M822,1737V1749" class="pg"/>
<circle cx="822" cy="1743" r="8.9" class="pg"/>
<path d="M920.8,1690V1722" class="pg"/>
<circle cx="920.8" cy="1706" r="8.9" class="pg"/>
<path d="M1009,1563V1607" class="pg"/>
<circle cx="1009" cy="1586" r="8.9" class="pg"/>
<path d="M1112,1534V1579" class="pg"/>
<circle cx="1112" cy="1556.9" r="8.9" class="pg"/>
<path d="M1174.4,1490V1503" class="pg"/>
<circle cx="1174.4" cy="1496.7" r="8.9" class="pg"/>
<path d="M1265.4,1499V1514" class="pg"/>
<circle cx="1265.4" cy="1506.4" r="8.9" class="pg"/>
<path d="M804.6,1742.2 808.6,1742 812.6,1741.8 816.6,1741.5 820.6,1741.2 824.6,1740.9 828.6,1740.5 832.6,1740.1 836.6,1739.7 840.6,1739.2 844.6,1738.7 848.6,1738.2 852.6,1737.5 856.6,1736.9 860.6,1736.1 864.6,1735.3 868.6,1734.4 872.6,1733.4 876.6,1732.4 880.6,1731.2 884.6,1730 888.6,1728.6 892.6,1727.1 896.6,1725.5 900.6,1723.8 904.6,1721.9 908.6,1719.8 912.6,1717.6 916.6,1715.2 920.6,1712.7 924.6,1709.9 928.5,1707 932.5,1703.8 936.5,1700.5 940.5,1696.9 944.5,1693.1 948.5,1689.1 952.5,1684.9 956.5,1680.5 960.5,1675.8 964.5,1671 968.5,1665.9 972.5,1660.7 976.5,1655.4 980.5,1649.9 984.5,1644.2 988.5,1638.5 992.5,1632.7 996.5,1626.8 1000.5,1620.9 1004.5,1615.1 1008.5,1609.2 1012.5,1603.4 1016.5,1597.7 1020.5,1592.1 1024.5,1586.6 1028.5,1581.3 1032.5,1576.1 1036.5,1571.1 1040.5,1566.4 1044.5,1561.8 1048.5,1557.4 1052.5,1553.2 1056.5,1549.3 1060.5,1545.5 1064.5,1542 1068.5,1538.7 1072.5,1535.6 1076.5,1532.7 1080.5,1530 1084.5,1527.5 1088.5,1525.2 1092.5,1523 1096.5,1521 1100.5,1519.2 1104.5,1517.4 1108.5,1515.9 1112.5,1514.4 1116.5,1513.1 1120.5,1511.9 1124.5,1510.7 1128.5,1509.7 1132.5,1508.7 1136.5,1507.9 1140.5,1507.1 1144.5,1506.4 1148.5,1505.7 1152.5,1505.1 1156.5,1504.5 1160.5,1504 1164.5,1503.6 1168.5,1503.2 1172.5,1502.8 1176.4,1502.4 1180.4,1502.1 1184.4,1501.8 1188.4,1501.6 1192.4,1501.3 1196.4,1501.1 1200.4,1500.9 1204.4,1500.7 1208.4,1500.6 1212.4,1500.4 1216.4,1500.3 1220.4,1500.1 1224.4,1500 1228.4,1499.9 1232.4,1499.8 1236.4,1499.8 1240.4,1499.7 1244.4,1499.6 1248.4,1499.5 1252.4,1499.5 1256.4,1499.4 1260.4,1499.4 1264.4,1499.3 1268.4,1499.3 1272.4,1499.3 1276.4,1499.2 1280.4,1499.2 1284.4,1499.2 1288.4,1499.2 1292.4,1499.1 1296.4,1499.1" class="lk"/>
<path d="M804.6,1744.4 808.6,1744.4 812.6,1744.3 816.6,1744.3 820.6,1744.3 824.6,1744.2 828.6,1744.2 832.6,1744.1 836.6,1744.1 840.6,1744 844.6,1743.9 848.6,1743.8 852.6,1743.7 856.6,1743.6 860.6,1743.4 864.6,1743.2 868.6,1742.9 872.6,1742.7 876.6,1742.3 880.6,1741.9 884.6,1741.5 888.6,1740.9 892.6,1740.3 896.6,1739.5 900.6,1738.6 904.6,1737.6 908.6,1736.4 912.6,1734.9 916.6,1733.2 920.6,1731.3 924.6,1729 928.5,1726.4 932.5,1723.3 936.5,1719.8 940.5,1715.8 944.5,1711.3 948.5,1706.1 952.5,1700.3 956.5,1693.9 960.5,1686.8 964.5,1679 968.5,1670.6 972.5,1661.6 976.5,1652.1 980.5,1642.2 984.5,1632 988.5,1621.6 992.5,1611.3 996.5,1601.1 1000.5,1591.2 1004.5,1581.7 1008.5,1572.7 1012.5,1564.3 1016.5,1556.5 1020.5,1549.4 1024.5,1543 1028.5,1537.2 1032.5,1532.1 1036.5,1527.5 1040.5,1523.5 1044.5,1520 1048.5,1517 1052.5,1514.4 1056.5,1512.1 1060.5,1510.1 1064.5,1508.5 1068.5,1507 1072.5,1505.8 1076.5,1504.8 1080.5,1503.9 1084.5,1503.1 1088.5,1502.5 1092.5,1501.9 1096.5,1501.5 1100.5,1501.1 1104.5,1500.7 1108.5,1500.5 1112.5,1500.2 1116.5,1500 1120.5,1499.8 1124.5,1499.7 1128.5,1499.6 1132.5,1499.5 1136.5,1499.4 1140.5,1499.3 1144.5,1499.2 1148.5,1499.2 1152.5,1499.2 1156.5,1499.1 1160.5,1499.1 1164.5,1499.1 1168.5,1499 1172.5,1499 1176.4,1499 1180.4,1499 1184.4,1499 1188.4,1499 1192.4,1499 1196.4,1498.9 1200.4,1498.9 1204.4,1498.9 1208.4,1498.9 1212.4,1498.9 1216.4,1498.9 1220.4,1498.9 1224.4,1498.9 1228.4,1498.9 1232.4,1498.9 1236.4,1498.9 1240.4,1498.9 1244.4,1498.9 1248.4,1498.9 1252.4,1498.9 1256.4,1498.9 1260.4,1498.9 1264.4,1498.9 1268.4,1498.9 1272.4,1498.9 1276.4,1498.9 1280.4,1498.9 1284.4,1498.9 1288.4,1498.9 1292.4,1498.9 1296.4,1498.9" class="lg"/>
<path d="M804.6,1739.8 810.6,1739.3 816.6,1738.7 822.6,1737.9 828.6,1737.1 834.6,1736.1 840.6,1735 846.6,1733.7 852.6,1732.2 858.6,1730.5 864.6,1728.6 870.6,1726.4 876.6,1723.9 882.6,1721 888.6,1717.7 894.6,1714.1 900.6,1709.9 906.6,1705.3 912.6,1700.2 918.6,1694.6 924.6,1688.4 930.5,1681.7 936.5,1674.5 942.5,1666.7 948.5,1658.6 954.5,1650 960.5,1641.1 966.5,1631.9 972.5,1622.7 978.5,1613.4 984.5,1604.2 990.5,1595.2 996.5,1586.4 1002.5,1578 1008.5,1570.1 1014.5,1562.6 1020.5,1555.6 1026.5,1549.2 1032.5,1543.3 1038.5,1537.9 1044.5,1533.1 1050.5,1528.7 1056.5,1524.8 1062.5,1521.4 1068.5,1518.3 1074.5,1515.6 1080.5,1513.2 1086.5,1511.2 1092.5,1509.4 1098.5,1507.8 1104.5,1506.4 1110.5,1505.2 1116.5,1504.2 1122.5,1503.3 1128.5,1502.5 1134.5,1501.8 1140.5,1501.2 1146.5,1500.7 1152.5,1500.3 1158.5,1499.9 1164.5,1499.6 1170.5,1499.3 1176.4,1499.1 1182.4,1498.9 1188.4,1498.7 1194.4,1498.5 1200.4,1498.4 1206.4,1498.3 1212.4,1498.2 1218.4,1498.1 1224.4,1498 1230.4,1498 1236.4,1497.9 1242.4,1497.9 1248.4,1497.8 1254.4,1497.8 1260.4,1497.8 1266.4,1497.8 1272.4,1497.7 1278.4,1497.7 1284.4,1497.7 1290.4,1497.7 1296.4,1497.7 1296.4,1500.7 1290.4,1500.8 1284.4,1500.9 1278.4,1501 1272.4,1501.1 1266.4,1501.2 1260.4,1501.4 1254.4,1501.5 1248.4,1501.7 1242.4,1501.9 1236.4,1502.2 1230.4,1502.5 1224.4,1502.8 1218.4,1503.2 1212.4,1503.6 1206.4,1504.1 1200.4,1504.7 1194.4,1505.3 1188.4,1506.1 1182.4,1506.9 1176.4,1507.9 1170.5,1509 1164.5,1510.2 1158.5,1511.6 1152.5,1513.2 1146.5,1514.9 1140.5,1517 1134.5,1519.2 1128.5,1521.8 1122.5,1524.6 1116.5,1527.8 1110.5,1531.4 1104.5,1535.3 1098.5,1539.6 1092.5,1544.3 1086.5,1549.5 1080.5,1555.1 1074.5,1561.2 1068.5,1567.7 1062.5,1574.6 1056.5,1581.9 1050.5,1589.5 1044.5,1597.4 1038.5,1605.6 1032.5,1613.9 1026.5,1622.3 1020.5,1630.7 1014.5,1639 1008.5,1647.2 1002.5,1655.2 996.5,1662.8 990.5,1670.2 984.5,1677.2 978.5,1683.7 972.5,1689.9 966.5,1695.6 960.5,1700.8 954.5,1705.6 948.5,1710 942.5,1714 936.5,1717.6 930.5,1720.8 924.6,1723.8 918.6,1726.4 912.6,1728.7 906.6,1730.7 900.6,1732.5 894.6,1734.2 888.6,1735.6 882.6,1736.8 876.6,1738 870.6,1738.9 864.6,1739.8 858.6,1740.5 852.6,1741.2 846.6,1741.8 840.6,1742.3 834.6,1742.7 828.6,1743.1 822.6,1743.5 816.6,1743.8 810.6,1744 804.6,1744.2Z" class="rk"/>
<path d="M804.6,1743 810.6,1743 816.6,1742.9 822.6,1742.9 828.6,1742.8 834.6,1742.6 840.6,1742.5 846.6,1742.3 852.6,1742 858.6,1741.6 864.6,1741.1 870.6,1740.5 876.6,1739.7 882.6,1738.6 888.6,1737.2 894.6,1735.5 900.6,1733.2 906.6,1730.4 912.6,1726.7 918.6,1722.1 924.6,1716.4 930.5,1709.3 936.5,1700.7 942.5,1690.6 948.5,1678.7 954.5,1665.3 960.5,1650.5 966.5,1634.7 972.5,1618.4 978.5,1602.2 984.5,1586.6 990.5,1572.1 996.5,1559 1002.5,1547.6 1008.5,1537.8 1014.5,1529.6 1020.5,1522.9 1026.5,1517.5 1032.5,1513.1 1038.5,1509.7 1044.5,1507 1050.5,1504.8 1056.5,1503.2 1062.5,1501.9 1068.5,1500.9 1074.5,1500.1 1080.5,1499.6 1086.5,1499.1 1092.5,1498.8 1098.5,1498.5 1104.5,1498.3 1110.5,1498.1 1116.5,1498 1122.5,1497.9 1128.5,1497.8 1134.5,1497.8 1140.5,1497.7 1146.5,1497.7 1152.5,1497.7 1158.5,1497.7 1164.5,1497.7 1170.5,1497.6 1176.4,1497.6 1182.4,1497.6 1188.4,1497.6 1194.4,1497.6 1200.4,1497.6 1206.4,1497.6 1212.4,1497.6 1218.4,1497.6 1224.4,1497.6 1230.4,1497.6 1236.4,1497.6 1242.4,1497.6 1248.4,1497.6 1254.4,1497.6 1260.4,1497.6 1266.4,1497.6 1272.4,1497.6 1278.4,1497.6 1284.4,1497.6 1290.4,1497.6 1296.4,1497.6 1296.4,1500.2 1290.4,1500.2 1284.4,1500.2 1278.4,1500.2 1272.4,1500.2 1266.4,1500.2 1260.4,1500.2 1254.4,1500.2 1248.4,1500.2 1242.4,1500.2 1236.4,1500.2 1230.4,1500.2 1224.4,1500.2 1218.4,1500.3 1212.4,1500.3 1206.4,1500.3 1200.4,1500.3 1194.4,1500.3 1188.4,1500.4 1182.4,1500.4 1176.4,1500.5 1170.5,1500.5 1164.5,1500.6 1158.5,1500.7 1152.5,1500.9 1146.5,1501 1140.5,1501.3 1134.5,1501.6 1128.5,1501.9 1122.5,1502.4 1116.5,1503 1110.5,1503.7 1104.5,1504.7 1098.5,1505.9 1092.5,1507.4 1086.5,1509.2 1080.5,1511.6 1074.5,1514.5 1068.5,1518.1 1062.5,1522.5 1056.5,1527.9 1050.5,1534.4 1044.5,1542.2 1038.5,1551.2 1032.5,1561.7 1026.5,1573.4 1020.5,1586.4 1014.5,1600.3 1008.5,1614.8 1002.5,1629.6 996.5,1644.2 990.5,1658.2 984.5,1671.3 978.5,1683.2 972.5,1693.7 966.5,1702.9 960.5,1710.8 954.5,1717.4 948.5,1722.9 942.5,1727.5 936.5,1731.2 930.5,1734.1 924.6,1736.5 918.6,1738.5 912.6,1740 906.6,1741.2 900.6,1742.2 894.6,1742.9 888.6,1743.5 882.6,1744 876.6,1744.4 870.6,1744.7 864.6,1744.9 858.6,1745.1 852.6,1745.3 846.6,1745.4 840.6,1745.5 834.6,1745.5 828.6,1745.6 822.6,1745.6 816.6,1745.7 810.6,1745.7 804.6,1745.7Z" class="rg"/>
<path d="M168.5,1932.3H705 M439.8,1789.3V2075.3" class="ref"/>
<path d="M212,2016V2040" class="pk"/>
<circle cx="212" cy="2028" r="8.9" class="pk"/>
<path d="M306,1978V2012" class="pk"/>
<circle cx="306" cy="1995.4" r="8.9" class="pk"/>
<path d="M399,1925V1980.7" class="pk"/>
<circle cx="399" cy="1954" r="8.9" class="pk"/>
<path d="M497.8,1886.8V1935.8" class="pk"/>
<circle cx="497.8" cy="1911.5" r="8.9" class="pk"/>
<path d="M563,1846V1874" class="pk"/>
<circle cx="563" cy="1860" r="8.9" class="pk"/>
<path d="M652.5,1820V1839" class="pk"/>
<circle cx="652.5" cy="1828.7" r="8.9" class="pk"/>
<path d="M213,2045V2057" class="pg"/>
<circle cx="213" cy="2051" r="8.9" class="pg"/>
<path d="M306,2010V2034" class="pg"/>
<circle cx="306" cy="2022.4" r="8.9" class="pg"/>
<path d="M400,1868V1914" class="pg"/>
<circle cx="400" cy="1891.2" r="8.9" class="pg"/>
<path d="M495.7,1850.7V1889.7" class="pg"/>
<circle cx="495.7" cy="1870.4" r="8.9" class="pg"/>
<path d="M563,1842.8V1873" class="pg"/>
<circle cx="563" cy="1858" r="8.9" class="pg"/>
<path d="M653,1833V1864.5" class="pg"/>
<circle cx="653" cy="1849" r="8.9" class="pg"/>
<path d="M193.2,2052.1 197.2,2051.8 201.2,2051.6 205.1,2051.3 209.1,2050.9 213.1,2050.6 217.1,2050.2 221,2049.8 225,2049.3 229,2048.9 233,2048.3 236.9,2047.8 240.9,2047.2 244.9,2046.5 248.9,2045.9 252.8,2045.1 256.8,2044.3 260.8,2043.4 264.8,2042.5 268.8,2041.5 272.7,2040.4 276.7,2039.3 280.7,2038.1 284.7,2036.7 288.6,2035.3 292.6,2033.8 296.6,2032.2 300.6,2030.5 304.5,2028.7 308.5,2026.7 312.5,2024.6 316.5,2022.4 320.5,2020.1 324.4,2017.7 328.4,2015 332.4,2012.3 336.4,2009.4 340.3,2006.4 344.3,2003.2 348.3,1999.8 352.3,1996.3 356.2,1992.7 360.2,1988.9 364.2,1985 368.2,1980.9 372.1,1976.7 376.1,1972.4 380.1,1968 384.1,1963.5 388.1,1958.9 392,1954.2 396,1949.4 400,1944.6 404,1939.7 407.9,1934.8 411.9,1929.9 415.9,1925.1 419.9,1920.2 423.8,1915.4 427.8,1910.6 431.8,1905.9 435.8,1901.3 439.8,1896.8 443.7,1892.3 447.7,1888 451.7,1883.8 455.7,1879.8 459.6,1875.8 463.6,1872 467.6,1868.4 471.6,1864.9 475.5,1861.6 479.5,1858.4 483.5,1855.3 487.5,1852.4 491.4,1849.7 495.4,1847 499.4,1844.6 503.4,1842.2 507.4,1840 511.3,1838 515.3,1836 519.3,1834.2 523.3,1832.5 527.2,1830.8 531.2,1829.3 535.2,1827.9 539.2,1826.6 543.1,1825.4 547.1,1824.2 551.1,1823.1 555.1,1822.1 559,1821.2 563,1820.3 567,1819.5 571,1818.8 575,1818.1 578.9,1817.4 582.9,1816.8 586.9,1816.3 590.9,1815.8 594.8,1815.3 598.8,1814.8 602.8,1814.4 606.8,1814 610.7,1813.7 614.7,1813.4 618.7,1813 622.7,1812.8 626.7,1812.5 630.6,1812.3 634.6,1812 638.6,1811.8 642.6,1811.6 646.5,1811.5 650.5,1811.3 654.5,1811.2 658.5,1811 662.4,1810.9 666.4,1810.8 670.4,1810.7 674.4,1810.6 678.3,1810.5 682.3,1810.4 686.3,1810.3" class="lk"/>
<path d="M193.2,2054.1 197.2,2054 201.2,2053.8 205.1,2053.7 209.1,2053.5 213.1,2053.4 217.1,2053.2 221,2053 225,2052.7 229,2052.5 233,2052.2 236.9,2051.9 240.9,2051.6 244.9,2051.2 248.9,2050.8 252.8,2050.3 256.8,2049.9 260.8,2049.3 264.8,2048.8 268.8,2048.1 272.7,2047.4 276.7,2046.7 280.7,2045.8 284.7,2044.9 288.6,2043.9 292.6,2042.9 296.6,2041.7 300.6,2040.4 304.5,2039 308.5,2037.5 312.5,2035.9 316.5,2034.1 320.5,2032.2 324.4,2030.1 328.4,2027.9 332.4,2025.5 336.4,2022.9 340.3,2020.1 344.3,2017.1 348.3,2014 352.3,2010.6 356.2,2007 360.2,2003.2 364.2,1999.1 368.2,1994.9 372.1,1990.5 376.1,1985.8 380.1,1981 384.1,1975.9 388.1,1970.7 392,1965.3 396,1959.8 400,1954.2 404,1948.5 407.9,1942.7 411.9,1936.8 415.9,1931 419.9,1925.1 423.8,1919.3 427.8,1913.5 431.8,1907.9 435.8,1902.3 439.8,1896.8 443.7,1891.5 447.7,1886.4 451.7,1881.4 455.7,1876.7 459.6,1872.1 463.6,1867.8 467.6,1863.6 471.6,1859.7 475.5,1856 479.5,1852.5 483.5,1849.2 487.5,1846.1 491.4,1843.2 495.4,1840.5 499.4,1838 503.4,1835.7 507.4,1833.5 511.3,1831.5 515.3,1829.7 519.3,1828 523.3,1826.4 527.2,1824.9 531.2,1823.6 535.2,1822.4 539.2,1821.2 543.1,1820.2 547.1,1819.3 551.1,1818.4 555.1,1817.6 559,1816.9 563,1816.2 567,1815.6 571,1815 575,1814.5 578.9,1814.1 582.9,1813.6 586.9,1813.2 590.9,1812.9 594.8,1812.6 598.8,1812.3 602.8,1812 606.8,1811.8 610.7,1811.5 614.7,1811.3 618.7,1811.2 622.7,1811 626.7,1810.8 630.6,1810.7 634.6,1810.6 638.6,1810.5 642.6,1810.4 646.5,1810.3 650.5,1810.2 654.5,1810.1 658.5,1810 662.4,1810 666.4,1809.9 670.4,1809.9 674.4,1809.8 678.3,1809.8 682.3,1809.7 686.3,1809.7" class="lg"/>
<path d="M193.2,2049.1 199.1,2048.4 205.1,2047.7 211,2046.9 217,2046 222.9,2044.9 228.8,2043.8 234.8,2042.5 240.7,2041 246.7,2039.4 252.6,2037.6 258.6,2035.6 264.5,2033.3 270.4,2030.8 276.4,2028.1 282.3,2025 288.3,2021.7 294.2,2018 300.1,2014 306.1,2009.6 312,2004.9 318,1999.8 323.9,1994.3 329.8,1988.5 335.8,1982.3 341.7,1975.8 347.7,1969 353.6,1961.9 359.5,1954.6 365.5,1947.1 371.4,1939.5 377.4,1931.8 383.3,1924.1 389.3,1916.5 395.2,1909 401.1,1901.6 407.1,1894.5 413,1887.6 419,1881 424.9,1874.8 430.8,1868.9 436.8,1863.3 442.7,1858.2 448.7,1853.3 454.6,1848.9 460.5,1844.8 466.5,1841.1 472.4,1837.7 478.4,1834.5 484.3,1831.7 490.2,1829.2 496.2,1826.9 502.1,1824.8 508.1,1823 514,1821.3 520,1819.8 525.9,1818.5 531.8,1817.3 537.8,1816.2 543.7,1815.3 549.7,1814.5 555.6,1813.7 561.5,1813.1 567.5,1812.5 573.4,1812 579.4,1811.5 585.3,1811.1 591.2,1810.8 597.2,1810.4 603.1,1810.2 609.1,1809.9 615,1809.7 620.9,1809.5 626.9,1809.3 632.8,1809.2 638.8,1809 644.7,1808.9 650.7,1808.8 656.6,1808.7 662.5,1808.6 668.5,1808.6 674.4,1808.5 680.4,1808.4 686.3,1808.4 686.3,1812.9 680.4,1813.2 674.4,1813.5 668.5,1813.9 662.5,1814.3 656.6,1814.7 650.7,1815.2 644.7,1815.7 638.8,1816.3 632.8,1816.9 626.9,1817.7 620.9,1818.5 615,1819.4 609.1,1820.4 603.1,1821.5 597.2,1822.8 591.2,1824.2 585.3,1825.7 579.4,1827.4 573.4,1829.2 567.5,1831.3 561.5,1833.5 555.6,1836 549.7,1838.7 543.7,1841.6 537.8,1844.8 531.8,1848.3 525.9,1852 520,1856 514,1860.4 508.1,1865 502.1,1870 496.2,1875.2 490.2,1880.8 484.3,1886.6 478.4,1892.6 472.4,1898.9 466.5,1905.4 460.5,1912.1 454.6,1918.9 448.7,1925.8 442.7,1932.8 436.8,1939.7 430.8,1946.6 424.9,1953.5 419,1960.2 413,1966.7 407.1,1973.1 401.1,1979.2 395.2,1985.1 389.3,1990.7 383.3,1996 377.4,2001 371.4,2005.7 365.5,2010.1 359.5,2014.2 353.6,2018.1 347.7,2021.6 341.7,2024.9 335.8,2027.9 329.8,2030.6 323.9,2033.1 318,2035.4 312,2037.5 306.1,2039.4 300.1,2041.1 294.2,2042.7 288.3,2044.1 282.3,2045.4 276.4,2046.5 270.4,2047.6 264.5,2048.5 258.6,2049.3 252.6,2050.1 246.7,2050.8 240.7,2051.4 234.8,2051.9 228.8,2052.4 222.9,2052.8 217,2053.2 211,2053.6 205.1,2053.9 199.1,2054.2 193.2,2054.4Z" class="rk"/>
<path d="M193.2,2052.4 199.1,2052.1 205.1,2051.8 211,2051.5 217,2051.1 222.9,2050.6 228.8,2050 234.8,2049.4 240.7,2048.7 246.7,2047.9 252.6,2046.9 258.6,2045.8 264.5,2044.5 270.4,2043.1 276.4,2041.4 282.3,2039.5 288.3,2037.3 294.2,2034.8 300.1,2031.9 306.1,2028.8 312,2025.1 318,2021.1 323.9,2016.6 329.8,2011.6 335.8,2006.1 341.7,2000 347.7,1993.4 353.6,1986.3 359.5,1978.7 365.5,1970.7 371.4,1962.2 377.4,1953.5 383.3,1944.4 389.3,1935.3 395.2,1926 401.1,1916.9 407.1,1907.9 413,1899.1 419,1890.7 424.9,1882.7 430.8,1875.1 436.8,1868.1 442.7,1861.5 448.7,1855.5 454.6,1850 460.5,1845.1 466.5,1840.6 472.4,1836.6 478.4,1833 484.3,1829.8 490.2,1827 496.2,1824.6 502.1,1822.4 508.1,1820.5 514,1818.8 520,1817.4 525.9,1816.1 531.8,1815 537.8,1814.1 543.7,1813.2 549.7,1812.5 555.6,1811.9 561.5,1811.4 567.5,1810.9 573.4,1810.5 579.4,1810.2 585.3,1809.9 591.2,1809.6 597.2,1809.4 603.1,1809.2 609.1,1809 615,1808.9 620.9,1808.8 626.9,1808.7 632.8,1808.6 638.8,1808.5 644.7,1808.4 650.7,1808.4 656.6,1808.3 662.5,1808.3 668.5,1808.2 674.4,1808.2 680.4,1808.2 686.3,1808.2 686.3,1811.5 680.4,1811.6 674.4,1811.7 668.5,1811.9 662.5,1812.1 656.6,1812.3 650.7,1812.5 644.7,1812.8 638.8,1813.1 632.8,1813.5 626.9,1813.9 620.9,1814.3 615,1814.9 609.1,1815.5 603.1,1816.2 597.2,1816.9 591.2,1817.8 585.3,1818.8 579.4,1820 573.4,1821.3 567.5,1822.8 561.5,1824.4 555.6,1826.3 549.7,1828.4 543.7,1830.8 537.8,1833.5 531.8,1836.4 525.9,1839.7 520,1843.4 514,1847.5 508.1,1851.9 502.1,1856.8 496.2,1862.1 490.2,1867.8 484.3,1874 478.4,1880.6 472.4,1887.6 466.5,1895 460.5,1902.6 454.6,1910.6 448.7,1918.7 442.7,1927 436.8,1935.3 430.8,1943.6 424.9,1951.9 419,1959.9 413,1967.8 407.1,1975.3 401.1,1982.5 395.2,1989.3 389.3,1995.8 383.3,2001.8 377.4,2007.3 371.4,2012.5 365.5,2017.2 359.5,2021.4 353.6,2025.3 347.7,2028.9 341.7,2032 335.8,2034.9 329.8,2037.4 323.9,2039.7 318,2041.7 312,2043.5 306.1,2045.1 300.1,2046.5 294.2,2047.7 288.3,2048.8 282.3,2049.7 276.4,2050.6 270.4,2051.3 264.5,2052 258.6,2052.6 252.6,2053.1 246.7,2053.5 240.7,2053.9 234.8,2054.2 228.8,2054.5 222.9,2054.8 217,2055 211,2055.2 205.1,2055.4 199.1,2055.5 193.2,2055.7Z" class="rg"/>
<path d="M780,1932.3H1315 M1050.5,1789.3V2075.3" class="ref"/>
<path d="M822.5,2028V2049" class="pk"/>
<circle cx="822.5" cy="2040" r="8.9" class="pk"/>
<path d="M922,1985.7V2028" class="pk"/>
<circle cx="922" cy="2012" r="8.9" class="pk"/>
<path d="M1006.5,1828V1875.7" class="pk"/>
<circle cx="1006.5" cy="1852" r="8.9" class="pk"/>
<path d="M1102,1802V1817" class="pk"/>
<circle cx="1102" cy="1809.6" r="8.9" class="pk"/>
<path d="M1171,1828.7V1861" class="pk"/>
<circle cx="1171" cy="1843.4" r="8.9" class="pk"/>
<path d="M1262.5,1823V1845.7" class="pk"/>
<circle cx="1262.5" cy="1833" r="8.9" class="pk"/>
<path d="M823,2046V2058" class="pg"/>
<circle cx="823" cy="2051.8" r="8.9" class="pg"/>
<path d="M923,1991.6V2034" class="pg"/>
<circle cx="923" cy="2013" r="8.9" class="pg"/>
<path d="M1005,1933.8V2003" class="pg"/>
<circle cx="1005" cy="1968" r="8.9" class="pg"/>
<path d="M1100.5,1822.8V1866.9" class="pg"/>
<circle cx="1100.5" cy="1844.8" r="8.9" class="pg"/>
<path d="M1173,1821.4V1848.7" class="pg"/>
<circle cx="1173" cy="1836" r="8.9" class="pg"/>
<path d="M1263.4,1816.4V1833" class="pg"/>
<circle cx="1263.4" cy="1825" r="8.9" class="pg"/>
<path d="M804.6,2051.7 808.6,2051.4 812.6,2051 816.6,2050.6 820.6,2050.1 824.6,2049.6 828.6,2049.1 832.6,2048.5 836.6,2047.8 840.6,2047.1 844.6,2046.3 848.6,2045.4 852.6,2044.5 856.6,2043.5 860.6,2042.3 864.6,2041.1 868.6,2039.8 872.6,2038.4 876.6,2036.8 880.6,2035.1 884.6,2033.3 888.6,2031.3 892.6,2029.1 896.6,2026.8 900.6,2024.3 904.6,2021.7 908.6,2018.8 912.6,2015.8 916.6,2012.5 920.6,2009 924.6,2005.4 928.5,2001.5 932.5,1997.4 936.5,1993 940.5,1988.5 944.5,1983.8 948.5,1978.8 952.5,1973.7 956.5,1968.5 960.5,1963.1 964.5,1957.5 968.5,1951.8 972.5,1946.1 976.5,1940.3 980.5,1934.5 984.5,1928.6 988.5,1922.8 992.5,1917 996.5,1911.2 1000.5,1905.6 1004.5,1900.1 1008.5,1894.7 1012.5,1889.5 1016.5,1884.4 1020.5,1879.6 1024.5,1874.9 1028.5,1870.4 1032.5,1866.1 1036.5,1862.1 1040.5,1858.3 1044.5,1854.6 1048.5,1851.2 1052.5,1848 1056.5,1845 1060.5,1842.2 1064.5,1839.6 1068.5,1837.1 1072.5,1834.9 1076.5,1832.8 1080.5,1830.8 1084.5,1829 1088.5,1827.4 1092.5,1825.8 1096.5,1824.4 1100.5,1823.1 1104.5,1822 1108.5,1820.9 1112.5,1819.9 1116.5,1818.9 1120.5,1818.1 1124.5,1817.3 1128.5,1816.6 1132.5,1816 1136.5,1815.4 1140.5,1814.8 1144.5,1814.4 1148.5,1813.9 1152.5,1813.5 1156.5,1813.1 1160.5,1812.8 1164.5,1812.5 1168.5,1812.2 1172.5,1811.9 1176.4,1811.7 1180.4,1811.5 1184.4,1811.3 1188.4,1811.1 1192.4,1810.9 1196.4,1810.8 1200.4,1810.7 1204.4,1810.5 1208.4,1810.4 1212.4,1810.3 1216.4,1810.2 1220.4,1810.2 1224.4,1810.1 1228.4,1810 1232.4,1810 1236.4,1809.9 1240.4,1809.8 1244.4,1809.8 1248.4,1809.8 1252.4,1809.7 1256.4,1809.7 1260.4,1809.6 1264.4,1809.6 1268.4,1809.6 1272.4,1809.6 1276.4,1809.5 1280.4,1809.5 1284.4,1809.5 1288.4,1809.5 1292.4,1809.5 1296.4,1809.5" class="lk"/>
<path d="M804.6,2055 808.6,2055 812.6,2055 816.6,2054.9 820.6,2054.9 824.6,2054.8 828.6,2054.7 832.6,2054.6 836.6,2054.6 840.6,2054.5 844.6,2054.3 848.6,2054.2 852.6,2054.1 856.6,2053.9 860.6,2053.7 864.6,2053.5 868.6,2053.2 872.6,2052.9 876.6,2052.6 880.6,2052.2 884.6,2051.8 888.6,2051.3 892.6,2050.7 896.6,2050.1 900.6,2049.3 904.6,2048.5 908.6,2047.6 912.6,2046.5 916.6,2045.3 920.6,2044 924.6,2042.4 928.5,2040.7 932.5,2038.8 936.5,2036.6 940.5,2034.2 944.5,2031.4 948.5,2028.4 952.5,2025.1 956.5,2021.3 960.5,2017.2 964.5,2012.8 968.5,2007.9 972.5,2002.6 976.5,1996.8 980.5,1990.7 984.5,1984.1 988.5,1977.2 992.5,1969.9 996.5,1962.4 1000.5,1954.6 1004.5,1946.5 1008.5,1938.4 1012.5,1930.2 1016.5,1922 1020.5,1914 1024.5,1906 1028.5,1898.3 1032.5,1890.9 1036.5,1883.8 1040.5,1877.1 1044.5,1870.7 1048.5,1864.8 1052.5,1859.3 1056.5,1854.2 1060.5,1849.5 1064.5,1845.2 1068.5,1841.3 1072.5,1837.8 1076.5,1834.6 1080.5,1831.7 1084.5,1829.2 1088.5,1826.9 1092.5,1824.8 1096.5,1823 1100.5,1821.4 1104.5,1819.9 1108.5,1818.7 1112.5,1817.5 1116.5,1816.5 1120.5,1815.7 1124.5,1814.9 1128.5,1814.2 1132.5,1813.6 1136.5,1813.1 1140.5,1812.6 1144.5,1812.2 1148.5,1811.9 1152.5,1811.5 1156.5,1811.3 1160.5,1811 1164.5,1810.8 1168.5,1810.6 1172.5,1810.5 1176.4,1810.3 1180.4,1810.2 1184.4,1810.1 1188.4,1810 1192.4,1809.9 1196.4,1809.8 1200.4,1809.8 1204.4,1809.7 1208.4,1809.7 1212.4,1809.6 1216.4,1809.6 1220.4,1809.6 1224.4,1809.5 1228.4,1809.5 1232.4,1809.5 1236.4,1809.5 1240.4,1809.4 1244.4,1809.4 1248.4,1809.4 1252.4,1809.4 1256.4,1809.4 1260.4,1809.4 1264.4,1809.4 1268.4,1809.4 1272.4,1809.4 1276.4,1809.4 1280.4,1809.4 1284.4,1809.3 1288.4,1809.3 1292.4,1809.3 1296.4,1809.3" class="lg"/>
<path d="M804.6,2048 810.6,2047.1 816.6,2046 822.6,2044.7 828.6,2043.3 834.6,2041.7 840.6,2039.8 846.6,2037.6 852.6,2035.2 858.6,2032.4 864.6,2029.2 870.6,2025.7 876.6,2021.7 882.6,2017.3 888.6,2012.3 894.6,2006.8 900.6,2000.9 906.6,1994.3 912.6,1987.3 918.6,1979.7 924.6,1971.7 930.5,1963.3 936.5,1954.5 942.5,1945.5 948.5,1936.3 954.5,1927.1 960.5,1917.9 966.5,1908.8 972.5,1900 978.5,1891.6 984.5,1883.5 990.5,1875.8 996.5,1868.7 1002.5,1862.1 1008.5,1856 1014.5,1850.5 1020.5,1845.5 1026.5,1840.9 1032.5,1836.9 1038.5,1833.3 1044.5,1830.1 1050.5,1827.2 1056.5,1824.7 1062.5,1822.5 1068.5,1820.6 1074.5,1818.9 1080.5,1817.5 1086.5,1816.2 1092.5,1815.1 1098.5,1814.1 1104.5,1813.3 1110.5,1812.6 1116.5,1811.9 1122.5,1811.4 1128.5,1810.9 1134.5,1810.5 1140.5,1810.2 1146.5,1809.9 1152.5,1809.6 1158.5,1809.4 1164.5,1809.2 1170.5,1809 1176.4,1808.9 1182.4,1808.8 1188.4,1808.7 1194.4,1808.6 1200.4,1808.5 1206.4,1808.4 1212.4,1808.4 1218.4,1808.3 1224.4,1808.3 1230.4,1808.2 1236.4,1808.2 1242.4,1808.2 1248.4,1808.2 1254.4,1808.1 1260.4,1808.1 1266.4,1808.1 1272.4,1808.1 1278.4,1808.1 1284.4,1808.1 1290.4,1808.1 1296.4,1808.1 1296.4,1811 1290.4,1811.1 1284.4,1811.1 1278.4,1811.2 1272.4,1811.3 1266.4,1811.4 1260.4,1811.5 1254.4,1811.6 1248.4,1811.8 1242.4,1811.9 1236.4,1812.1 1230.4,1812.3 1224.4,1812.6 1218.4,1812.9 1212.4,1813.2 1206.4,1813.6 1200.4,1814 1194.4,1814.5 1188.4,1815 1182.4,1815.7 1176.4,1816.4 1170.5,1817.2 1164.5,1818.1 1158.5,1819.2 1152.5,1820.4 1146.5,1821.8 1140.5,1823.3 1134.5,1825 1128.5,1827 1122.5,1829.2 1116.5,1831.7 1110.5,1834.4 1104.5,1837.5 1098.5,1841 1092.5,1844.8 1086.5,1849 1080.5,1853.6 1074.5,1858.6 1068.5,1864.1 1062.5,1870 1056.5,1876.3 1050.5,1883.1 1044.5,1890.2 1038.5,1897.7 1032.5,1905.5 1026.5,1913.5 1020.5,1921.8 1014.5,1930.1 1008.5,1938.5 1002.5,1946.8 996.5,1955 990.5,1963 984.5,1970.7 978.5,1978.2 972.5,1985.2 966.5,1991.9 960.5,1998.2 954.5,2004 948.5,2009.4 942.5,2014.4 936.5,2018.9 930.5,2023.1 924.6,2026.8 918.6,2030.2 912.6,2033.2 906.6,2036 900.6,2038.4 894.6,2040.5 888.6,2042.5 882.6,2044.2 876.6,2045.7 870.6,2047 864.6,2048.2 858.6,2049.2 852.6,2050.1 846.6,2050.9 840.6,2051.6 834.6,2052.3 828.6,2052.8 822.6,2053.3 816.6,2053.7 810.6,2054.1 804.6,2054.4Z" class="rk"/>
<path d="M804.6,2053.6 810.6,2053.5 816.6,2053.4 822.6,2053.3 828.6,2053.2 834.6,2053 840.6,2052.7 846.6,2052.4 852.6,2052.1 858.6,2051.6 864.6,2051.1 870.6,2050.4 876.6,2049.6 882.6,2048.6 888.6,2047.4 894.6,2045.9 900.6,2044 906.6,2041.8 912.6,2039.1 918.6,2035.9 924.6,2032.1 930.5,2027.5 936.5,2022.1 942.5,2015.8 948.5,2008.5 954.5,2000.1 960.5,1990.8 966.5,1980.4 972.5,1969.1 978.5,1957.1 984.5,1944.5 990.5,1931.6 996.5,1918.7 1002.5,1906.1 1008.5,1894 1014.5,1882.6 1020.5,1872.1 1026.5,1862.7 1032.5,1854.2 1038.5,1846.9 1044.5,1840.5 1050.5,1835 1056.5,1830.3 1062.5,1826.4 1068.5,1823.1 1074.5,1820.4 1080.5,1818.2 1086.5,1816.3 1092.5,1814.8 1098.5,1813.5 1104.5,1812.5 1110.5,1811.7 1116.5,1811 1122.5,1810.4 1128.5,1810 1134.5,1809.6 1140.5,1809.3 1146.5,1809.1 1152.5,1808.9 1158.5,1808.7 1164.5,1808.6 1170.5,1808.5 1176.4,1808.4 1182.4,1808.3 1188.4,1808.3 1194.4,1808.2 1200.4,1808.2 1206.4,1808.1 1212.4,1808.1 1218.4,1808.1 1224.4,1808.1 1230.4,1808.1 1236.4,1808.1 1242.4,1808.1 1248.4,1808 1254.4,1808 1260.4,1808 1266.4,1808 1272.4,1808 1278.4,1808 1284.4,1808 1290.4,1808 1296.4,1808 1296.4,1810.7 1290.4,1810.7 1284.4,1810.7 1278.4,1810.7 1272.4,1810.7 1266.4,1810.8 1260.4,1810.8 1254.4,1810.8 1248.4,1810.9 1242.4,1810.9 1236.4,1811 1230.4,1811.1 1224.4,1811.2 1218.4,1811.3 1212.4,1811.4 1206.4,1811.6 1200.4,1811.8 1194.4,1812 1188.4,1812.3 1182.4,1812.7 1176.4,1813.1 1170.5,1813.6 1164.5,1814.3 1158.5,1815 1152.5,1815.9 1146.5,1817 1140.5,1818.3 1134.5,1819.8 1128.5,1821.7 1122.5,1823.9 1116.5,1826.5 1110.5,1829.5 1104.5,1833.1 1098.5,1837.4 1092.5,1842.2 1086.5,1847.9 1080.5,1854.3 1074.5,1861.6 1068.5,1869.7 1062.5,1878.6 1056.5,1888.4 1050.5,1898.8 1044.5,1909.9 1038.5,1921.3 1032.5,1933 1026.5,1944.7 1020.5,1956.2 1014.5,1967.2 1008.5,1977.8 1002.5,1987.6 996.5,1996.6 990.5,2004.9 984.5,2012.2 978.5,2018.7 972.5,2024.4 966.5,2029.4 960.5,2033.7 954.5,2037.3 948.5,2040.4 942.5,2043.1 936.5,2045.3 930.5,2047.2 924.6,2048.8 918.6,2050.1 912.6,2051.2 906.6,2052.1 900.6,2052.9 894.6,2053.5 888.6,2054 882.6,2054.5 876.6,2054.8 870.6,2055.1 864.6,2055.4 858.6,2055.6 852.6,2055.8 846.6,2055.9 840.6,2056 834.6,2056.1 828.6,2056.2 822.6,2056.3 816.6,2056.3 810.6,2056.4 804.6,2056.4Z" class="rg"/>
<path d="M168.6,1477.9V1764.5M168.6,1491.9h-13.5M168.6,1556.8h-13.5M168.6,1621.7h-13.5M168.6,1686.6h-13.5M168.6,1751.5h-13.5" class="ax"/>
<text x="144.6" y="1504.1" class="t ae">1.00</text>
<text x="144.6" y="1569" class="t ae">0.75</text>
<text x="144.6" y="1633.9" class="t ae">0.50</text>
<text x="144.6" y="1698.8" class="t ae">0.25</text>
<text x="144.6" y="1763.7" class="t ae">0.00</text>
<path d="M168.6,1788.3V2073.6M168.6,1802.3h-13.5M168.6,1867.3h-13.5M168.6,1932.3h-13.5M168.6,1997.3h-13.5M168.6,2062.3h-13.5" class="ax"/>
<text x="144.6" y="1814.5" class="t ae">1.00</text>
<text x="144.6" y="1879.5" class="t ae">0.75</text>
<text x="144.6" y="1944.5" class="t ae">0.50</text>
<text x="144.6" y="2009.5" class="t ae">0.25</text>
<text x="144.6" y="2074.5" class="t ae">0.00</text>
<path d="M166.2,2073.6H711M193.2,2073.6v14.2M217.9,2073.6v14.2M242.5,2073.6v14.2M267.2,2073.6v14.2M291.8,2073.6v14.2M316.5,2073.6v14.2M341.1,2073.6v14.2M365.8,2073.6v14.2M390.4,2073.6v14.2M415.1,2073.6v14.2M439.8,2073.6v14.2M464.4,2073.6v14.2M489.1,2073.6v14.2M513.7,2073.6v14.2M538.4,2073.6v14.2M563,2073.6v14.2M587.7,2073.6v14.2M612.3,2073.6v14.2M637,2073.6v14.2M661.6,2073.6v14.2M686.3,2073.6v14.2" class="ax"/>
<text x="193.2" y="2122.4" class="t am">100%</text>
<text x="193.2" y="2158.6" class="t am">anger</text>
<text x="439.8" y="2122.4" class="t am">neutral</text>
<text x="686.3" y="2122.4" class="t am">100%</text>
<text x="686.3" y="2158.6" class="t am">fear</text>
<path d="M780,2073.6H1321M804.6,2073.6v14.2M829.2,2073.6v14.2M853.8,2073.6v14.2M878.4,2073.6v14.2M903,2073.6v14.2M927.6,2073.6v14.2M952.1,2073.6v14.2M976.7,2073.6v14.2M1001.3,2073.6v14.2M1025.9,2073.6v14.2M1050.5,2073.6v14.2M1075.1,2073.6v14.2M1099.7,2073.6v14.2M1124.3,2073.6v14.2M1148.9,2073.6v14.2M1173.5,2073.6v14.2M1198,2073.6v14.2M1222.6,2073.6v14.2M1247.2,2073.6v14.2M1271.8,2073.6v14.2M1296.4,2073.6v14.2" class="ax"/>
<text x="804.6" y="2122.4" class="t am">100%</text>
<text x="804.6" y="2158.6" class="t am">anger</text>
<text x="1050.5" y="2122.4" class="t am">neutral</text>
<text x="1296.4" y="2122.4" class="t am">100%</text>
<text x="1296.4" y="2158.6" class="t am">fear</text>
<text x="439.8" y="1454.6" class="t am">T1</text>
<text x="1050.9" y="1454.6" class="t am">T2</text>
<text transform="translate(1344.3,1631) rotate(90)" class="t am">non-refugees</text>
<text transform="translate(1344.3,1934.9) rotate(90)" class="t am">refugees</text>
<text transform="translate(56,1776.6) rotate(-90)" class="tt am">choice probability</text>
<text x="744.8" y="2210.2" class="tt am">morph level</text>
<text x="6.5" y="1413" class="pl">D</text>
<text x="1512.3" y="862.7" class="t am">control</text>
<rect x="1470.7" y="878.9" width="83.2" height="67.5" fill="#e5e5e5"/>
<path d="M1478.7,912.8H1545.5" stroke="#a9a9a9" stroke-width="7.8"/>
<circle cx="1511.8" cy="912.8" r="8.9" class="pk"/>
<text x="1512.3" y="1031.3" class="t am">experimental</text>
<rect x="1470.7" y="1046.8" width="83.2" height="67.9" fill="#b2d1b2"/>
<path d="M1478.7,1080.6H1545.5" stroke="#006400" stroke-width="7.8"/>
<circle cx="1511.8" cy="1080.6" r="8.9" class="pg"/>
<path d="M2113.4,644.8V870 M2113.4,899.8V1125.9" class="zero"/>
<path d="M1832.8,641V870 M1832.8,897.8V1125.9H2394.4M1832.8,703.6h-13.5M1832.8,808.4h-13.5M1832.8,959.5h-13.5M1832.8,1063.4h-13.5M1909,1125.9v13.8M2011.2,1125.9v13.8M2113.4,1125.9v13.8M2215.6,1125.9v13.8M2317.8,1125.9v13.8" class="ax2"/>
<text x="1909" y="1174.7" class="t am">−20</text>
<text x="2011.2" y="1174.7" class="t am">−10</text>
<text x="2113.4" y="1174.7" class="t am">0</text>
<text x="2215.6" y="1174.7" class="t am">10</text>
<text x="2317.8" y="1174.7" class="t am">20</text>
<clipPath id="cpC"><rect x="1832.8" y="0" width="700" height="2223"/></clipPath>
<g clip-path="url(#cpC)"><path d="M2042,703.6H2189 M2042,693.3v20.6 M2189,693.3v20.6" stroke="#006400" stroke-width="4.7" fill="none"/></g>
<circle cx="2115" cy="703.6" r="18.6" fill="#006400"/>
<text x="1798" y="715.8" class="t ae">exp.</text>
<g clip-path="url(#cpC)"><path d="M2052.5,808.4H2205.8 M2052.5,798.1v20.6 M2205.8,798.1v20.6" stroke="#a9a9a9" stroke-width="4.7" fill="none"/></g>
<circle cx="2128.5" cy="808.4" r="18.6" fill="#a9a9a9"/>
<text x="1807.5" y="820.6" class="t ae">control</text>
<g clip-path="url(#cpC)"><path d="M2119.5,959.5H2326.6 M2119.5,949.2v20.6 M2326.6,949.2v20.6" stroke="#006400" stroke-width="4.7" fill="none"/></g>
<circle cx="2218" cy="959.5" r="18.6" fill="#006400"/>
<text x="1798" y="971.7" class="t ae">exp.</text>
<g clip-path="url(#cpC)"><path d="M1977.7,1063.4H2178.7 M1977.7,1053.1v20.6 M2178.7,1053.1v20.6" stroke="#a9a9a9" stroke-width="4.7" fill="none"/></g>
<circle cx="2078" cy="1063.4" r="18.6" fill="#a9a9a9"/>
<text x="1807.5" y="1075.6" class="t ae">control</text>
<text x="2250.8" y="962.9" class="star am">*</text>
<text x="2112" y="1225.8" class="tt am">PSE difference from T1</text>
<text x="2112" y="1273" class="tt am">[% morphing]</text>
<clipPath id="csC"><rect x="2380" y="0" width="120" height="855.8"/></clipPath>
<g clip-path="url(#csC)"><text transform="translate(2418,766.9) rotate(90)" class="t am">non-refugees</text></g>
<text transform="translate(2418,1013.1) rotate(90)" class="t am">refugees</text>
<text x="2111.3" y="532.9" class="it">bias toward</text><text x="2111.3" y="562.3" class="it">'happy'</text><path d="M2115.1,569.2V596.6" stroke="#7f7f7f" stroke-width="3.3"/><path d="M2115.1,582.6H2270" stroke="#7f7f7f" stroke-width="6.9" stroke-dasharray="5.9 6.5"/><path d="M2272.6,568V597.4L2298.4,582.7Z" fill="#7f7f7f"/>
<text x="1684.3" y="507.5" class="pl">C</text>
<path d="M2113.4,1552.5V1777.6 M2113.4,1808V2033.3" class="zero"/>
<path d="M1833,1550.3V1777.6 M1833,1806.9V2033.3H2394.4M1833,1612h-13.5M1833,1716h-13.5M1833,1866.8h-13.5M1833,1971.6h-13.5M1909,2033.3v13.8M2011.2,2033.3v13.8M2113.4,2033.3v13.8M2215.6,2033.3v13.8M2317.8,2033.3v13.8" class="ax2"/>
<text x="1909" y="2082.1" class="t am">−20</text>
<text x="2011.2" y="2082.1" class="t am">−10</text>
<text x="2113.4" y="2082.1" class="t am">0</text>
<text x="2215.6" y="2082.1" class="t am">10</text>
<text x="2317.8" y="2082.1" class="t am">20</text>
<clipPath id="cpE"><rect x="1833" y="0" width="700" height="2223"/></clipPath>
<g clip-path="url(#cpE)"><path d="M1836.2,1612H2023.4 M1836.2,1601.7v20.6 M2023.4,1601.7v20.6" stroke="#006400" stroke-width="4.7" fill="none"/></g>
<circle cx="1934.7" cy="1612" r="18.6" fill="#006400"/>
<text x="1798" y="1624.2" class="t ae">exp.</text>
<g clip-path="url(#cpE)"><path d="M1929.7,1716H2088.6 M1929.7,1705.7v20.6 M2088.6,1705.7v20.6" stroke="#a9a9a9" stroke-width="4.7" fill="none"/></g>
<circle cx="2014.4" cy="1716" r="18.6" fill="#a9a9a9"/>
<text x="1807.5" y="1728.2" class="t ae">control</text>
<g clip-path="url(#cpE)"><path d="M1971.6,1866.8H2132.3 M1971.6,1856.5v20.6 M2132.3,1856.5v20.6" stroke="#006400" stroke-width="4.7" fill="none"/></g>
<circle cx="2053.5" cy="1866.8" r="18.6" fill="#006400"/>
<text x="1798" y="1879" class="t ae">exp.</text>
<g clip-path="url(#cpE)"><path d="M1865.8,1971.6H2126.9 M1865.8,1961.3v20.6 M2126.9,1961.3v20.6" stroke="#a9a9a9" stroke-width="4.7" fill="none"/></g>
<circle cx="2001.7" cy="1971.6" r="18.6" fill="#a9a9a9"/>
<text x="1807.5" y="1983.8" class="t ae">control</text>
<text x="1969.3" y="1614.8" class="star am">*</text>
<text x="2047.2" y="1716" class="star am">*</text>
<text x="2112" y="2133.2" class="tt am">PSE difference from T1</text>
<text x="2112" y="2180.4" class="tt am">[% morphing]</text>
<clipPath id="csE"><rect x="2380" y="0" width="120" height="1761.9"/></clipPath>
<g clip-path="url(#csE)"><text transform="translate(2418.8,1673.4) rotate(90)" class="t am">non-refugees</text></g>
<text transform="translate(2418.8,1922) rotate(90)" class="t am">refugees</text>
<text x="2111" y="1450" class="it ae">bias toward</text><text x="2111" y="1479.6" class="it ae">'angry'</text><path d="M2112.5,1487.3V1513" stroke="#7f7f7f" stroke-width="3.3"/><path d="M2112.5,1499.9H1955" stroke="#7f7f7f" stroke-width="6.9" stroke-dasharray="5.9 6.5"/><path d="M1953.6,1485V1514.3L1928.8,1499.7Z" fill="#7f7f7f"/>
<text x="1593.3" y="1413" class="pl">E</text>
</svg></body></html>
